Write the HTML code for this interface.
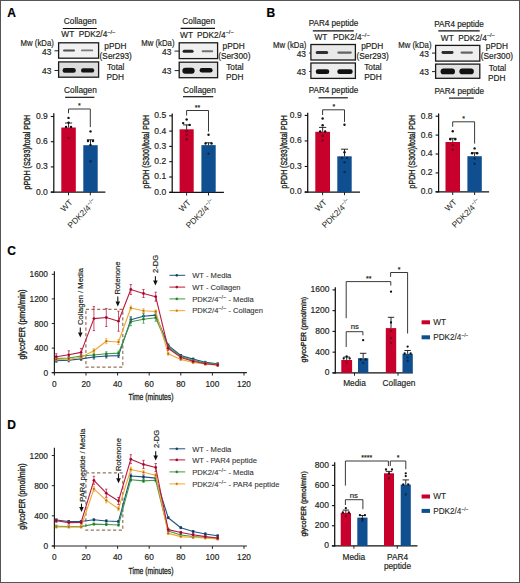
<!DOCTYPE html><html><head><meta charset="utf-8"><style>html,body{margin:0;padding:0;background:#fff;overflow:hidden;width:520px;height:583px;}svg{display:block;}text{font-family:"Liberation Sans",sans-serif;}</style></head><body>
<svg width="520" height="583" viewBox="0 0 520 583">
<defs><filter id="bl" x="-20%" y="-50%" width="140%" height="200%"><feGaussianBlur stdDeviation="0.45"/></filter></defs>
<rect x="0" y="0" width="520" height="583" fill="#fff"/>
<rect x="0.5" y="0.5" width="519" height="582" fill="none" stroke="#555555" stroke-width="1"/>
<text x="7.20" y="17.30" font-size="12" text-anchor="start" font-weight="bold" fill="#000" stroke="#000" stroke-width="0.18" >A</text>
<text x="266.60" y="17.30" font-size="12" text-anchor="start" font-weight="bold" fill="#000" stroke="#000" stroke-width="0.18" >B</text>
<text x="7.20" y="255.00" font-size="12" text-anchor="start" font-weight="bold" fill="#000" stroke="#000" stroke-width="0.18" >C</text>
<text x="7.20" y="428.80" font-size="12" text-anchor="start" font-weight="bold" fill="#000" stroke="#000" stroke-width="0.18" >D</text>
<text x="63.80" y="23.80" font-size="8.3" text-anchor="start" font-weight="normal" fill="#231f20" stroke="#231f20" stroke-width="0.18" >Collagen</text>
<line x1="62.80" y1="28.50" x2="96.80" y2="28.50" stroke="#111" stroke-width="1.15" />
<text x="61.30" y="37.30" font-size="8.3" text-anchor="start" font-weight="normal" fill="#231f20" stroke="#231f20" stroke-width="0.18" >WT</text>
<text x="78.70" y="37.30" font-size="8.3" text-anchor="start" font-weight="normal" fill="#231f20" stroke="#231f20" stroke-width="0.18" >PDK2/4<tspan font-size="5.6" dy="-3.4">−/−</tspan></text>
<text x="20.60" y="45.50" font-size="8.4" text-anchor="start" font-weight="normal" fill="#231f20" stroke="#231f20" stroke-width="0.18" textLength="33.2" lengthAdjust="spacingAndGlyphs">Mw (kDa)</text>
<text x="51.30" y="54.50" font-size="8.4" text-anchor="end" font-weight="normal" fill="#231f20" stroke="#231f20" stroke-width="0.18" >43</text>
<text x="51.30" y="73.80" font-size="8.4" text-anchor="end" font-weight="normal" fill="#231f20" stroke="#231f20" stroke-width="0.18" >43</text>
<line x1="54.50" y1="50.80" x2="58.60" y2="50.80" stroke="#222" stroke-width="1.0" />
<line x1="54.50" y1="70.50" x2="58.60" y2="70.50" stroke="#222" stroke-width="1.0" />
<rect x="58.60" y="42.80" width="40.00" height="15.40" fill="#f1f1f1" stroke="#1a1a1a" stroke-width="1.3"/>
<rect x="63.00" y="49.40" width="12.00" height="2.00" rx="1.00" fill="#1a1a1a" opacity="0.75" filter="url(#bl)"/>
<rect x="81.00" y="49.50" width="12.20" height="1.80" rx="0.90" fill="#1a1a1a" opacity="0.55" filter="url(#bl)"/>
<rect x="58.60" y="61.90" width="40.00" height="15.30" fill="#dcdcdc" stroke="#1a1a1a" stroke-width="1.3"/>
<rect x="62.60" y="68.10" width="13.20" height="4.60" rx="2.30" fill="#0a0a0a" opacity="0.97" filter="url(#bl)"/>
<rect x="81.00" y="68.20" width="13.20" height="4.40" rx="2.20" fill="#0a0a0a" opacity="0.97" filter="url(#bl)"/>
<text x="104.30" y="49.30" font-size="8.3" text-anchor="start" font-weight="normal" fill="#231f20" stroke="#231f20" stroke-width="0.18" >pPDH</text>
<text x="99.60" y="58.80" font-size="8.3" text-anchor="start" font-weight="normal" fill="#231f20" stroke="#231f20" stroke-width="0.18" >(Ser293)</text>
<text x="107.00" y="70.40" font-size="8.3" text-anchor="start" font-weight="normal" fill="#231f20" stroke="#231f20" stroke-width="0.18" textLength="17.4" lengthAdjust="spacingAndGlyphs">Total</text>
<text x="106.50" y="80.30" font-size="8.3" text-anchor="start" font-weight="normal" fill="#231f20" stroke="#231f20" stroke-width="0.18" >PDH</text>
<text x="64.10" y="93.30" font-size="8.3" text-anchor="start" font-weight="normal" fill="#231f20" stroke="#231f20" stroke-width="0.18" >Collagen</text>
<line x1="65.10" y1="97.30" x2="94.40" y2="97.30" stroke="#111" stroke-width="1.15" />
<text x="182.30" y="24.00" font-size="8.3" text-anchor="start" font-weight="normal" fill="#231f20" stroke="#231f20" stroke-width="0.18" >Collagen</text>
<line x1="180.60" y1="28.30" x2="215.00" y2="28.30" stroke="#111" stroke-width="1.15" />
<text x="180.10" y="37.60" font-size="8.3" text-anchor="start" font-weight="normal" fill="#231f20" stroke="#231f20" stroke-width="0.18" >WT</text>
<text x="197.00" y="37.60" font-size="8.3" text-anchor="start" font-weight="normal" fill="#231f20" stroke="#231f20" stroke-width="0.18" >PDK2/4<tspan font-size="5.6" dy="-3.4">−/−</tspan></text>
<text x="141.30" y="45.50" font-size="8.4" text-anchor="start" font-weight="normal" fill="#231f20" stroke="#231f20" stroke-width="0.18" textLength="33.2" lengthAdjust="spacingAndGlyphs">Mw (kDa)</text>
<text x="171.40" y="54.80" font-size="8.4" text-anchor="end" font-weight="normal" fill="#231f20" stroke="#231f20" stroke-width="0.18" >43</text>
<text x="171.40" y="73.90" font-size="8.4" text-anchor="end" font-weight="normal" fill="#231f20" stroke="#231f20" stroke-width="0.18" >43</text>
<line x1="174.60" y1="51.10" x2="179.20" y2="51.10" stroke="#222" stroke-width="1.0" />
<line x1="174.60" y1="70.60" x2="179.20" y2="70.60" stroke="#222" stroke-width="1.0" />
<rect x="179.20" y="42.80" width="38.40" height="15.80" fill="#f0f0f0" stroke="#1a1a1a" stroke-width="1.3"/>
<rect x="182.60" y="49.80" width="11.00" height="3.00" rx="1.50" fill="#1a1a1a" opacity="0.95" filter="url(#bl)"/>
<rect x="201.60" y="50.20" width="11.60" height="2.00" rx="1.00" fill="#1a1a1a" opacity="0.6" filter="url(#bl)"/>
<rect x="179.20" y="62.20" width="38.40" height="15.50" fill="#e4e4e4" stroke="#1a1a1a" stroke-width="1.3"/>
<rect x="182.40" y="67.70" width="12.20" height="6.00" rx="3.00" fill="#0a0a0a" opacity="0.98" filter="url(#bl)"/>
<rect x="199.60" y="68.00" width="13.00" height="4.60" rx="2.30" fill="#0a0a0a" opacity="0.98" filter="url(#bl)"/>
<text x="222.60" y="49.00" font-size="8.3" text-anchor="start" font-weight="normal" fill="#231f20" stroke="#231f20" stroke-width="0.18" >pPDH</text>
<text x="218.20" y="59.30" font-size="8.3" text-anchor="start" font-weight="normal" fill="#231f20" stroke="#231f20" stroke-width="0.18" >(Ser300)</text>
<text x="226.20" y="70.20" font-size="8.3" text-anchor="start" font-weight="normal" fill="#231f20" stroke="#231f20" stroke-width="0.18" textLength="17.4" lengthAdjust="spacingAndGlyphs">Total</text>
<text x="225.90" y="79.90" font-size="8.3" text-anchor="start" font-weight="normal" fill="#231f20" stroke="#231f20" stroke-width="0.18" >PDH</text>
<text x="183.10" y="92.60" font-size="8.3" text-anchor="start" font-weight="normal" fill="#231f20" stroke="#231f20" stroke-width="0.18" >Collagen</text>
<line x1="183.00" y1="96.70" x2="213.30" y2="96.70" stroke="#111" stroke-width="1.15" />
<text x="308.70" y="25.80" font-size="8.3" text-anchor="start" font-weight="normal" fill="#231f20" stroke="#231f20" stroke-width="0.18" textLength="49.6" lengthAdjust="spacingAndGlyphs">PAR4 peptide</text>
<line x1="312.80" y1="30.90" x2="353.80" y2="30.90" stroke="#111" stroke-width="1.15" />
<text x="314.50" y="39.90" font-size="8.3" text-anchor="start" font-weight="normal" fill="#231f20" stroke="#231f20" stroke-width="0.18" >WT</text>
<text x="333.00" y="39.90" font-size="8.3" text-anchor="start" font-weight="normal" fill="#231f20" stroke="#231f20" stroke-width="0.18" >PDK2/4<tspan font-size="5.6" dy="-3.4">−/−</tspan></text>
<text x="273.10" y="48.00" font-size="8.4" text-anchor="start" font-weight="normal" fill="#231f20" stroke="#231f20" stroke-width="0.18" textLength="33.2" lengthAdjust="spacingAndGlyphs">Mw (kDa)</text>
<text x="306.00" y="56.70" font-size="8.4" text-anchor="end" font-weight="normal" fill="#231f20" stroke="#231f20" stroke-width="0.18" >43</text>
<text x="306.00" y="74.80" font-size="8.4" text-anchor="end" font-weight="normal" fill="#231f20" stroke="#231f20" stroke-width="0.18" >43</text>
<line x1="309.20" y1="53.00" x2="310.90" y2="53.00" stroke="#222" stroke-width="1.0" />
<line x1="309.20" y1="71.50" x2="310.90" y2="71.50" stroke="#222" stroke-width="1.0" />
<rect x="310.90" y="44.50" width="44.50" height="15.50" fill="#e9e9e9" stroke="#1a1a1a" stroke-width="1.3"/>
<rect x="315.70" y="51.00" width="12.50" height="3.00" rx="1.50" fill="#1a1a1a" opacity="0.9" filter="url(#bl)"/>
<rect x="337.30" y="51.45" width="14.50" height="2.30" rx="1.15" fill="#1a1a1a" opacity="0.65" filter="url(#bl)"/>
<rect x="310.90" y="63.00" width="44.50" height="15.40" fill="#ececec" stroke="#1a1a1a" stroke-width="1.3"/>
<rect x="315.70" y="69.30" width="13.60" height="4.80" rx="2.40" fill="#0a0a0a" opacity="0.98" filter="url(#bl)"/>
<rect x="337.30" y="69.30" width="15.40" height="4.80" rx="2.40" fill="#0a0a0a" opacity="0.98" filter="url(#bl)"/>
<text x="361.20" y="48.80" font-size="8.3" text-anchor="start" font-weight="normal" fill="#231f20" stroke="#231f20" stroke-width="0.18" >pPDH</text>
<text x="356.50" y="59.10" font-size="8.3" text-anchor="start" font-weight="normal" fill="#231f20" stroke="#231f20" stroke-width="0.18" >(Ser293)</text>
<text x="364.20" y="69.60" font-size="8.3" text-anchor="start" font-weight="normal" fill="#231f20" stroke="#231f20" stroke-width="0.18" textLength="17.4" lengthAdjust="spacingAndGlyphs">Total</text>
<text x="364.20" y="80.10" font-size="8.3" text-anchor="start" font-weight="normal" fill="#231f20" stroke="#231f20" stroke-width="0.18" >PDH</text>
<text x="308.70" y="93.40" font-size="8.3" text-anchor="start" font-weight="normal" fill="#231f20" stroke="#231f20" stroke-width="0.18" textLength="49.6" lengthAdjust="spacingAndGlyphs">PAR4 peptide</text>
<line x1="318.50" y1="97.80" x2="347.80" y2="97.80" stroke="#111" stroke-width="1.15" />
<text x="434.30" y="27.00" font-size="8.3" text-anchor="start" font-weight="normal" fill="#231f20" stroke="#231f20" stroke-width="0.18" textLength="49.6" lengthAdjust="spacingAndGlyphs">PAR4 peptide</text>
<line x1="438.30" y1="30.90" x2="479.70" y2="30.90" stroke="#111" stroke-width="1.15" />
<text x="440.80" y="40.50" font-size="8.3" text-anchor="start" font-weight="normal" fill="#231f20" stroke="#231f20" stroke-width="0.18" >WT</text>
<text x="458.20" y="40.50" font-size="8.3" text-anchor="start" font-weight="normal" fill="#231f20" stroke="#231f20" stroke-width="0.18" >PDK2/4<tspan font-size="5.6" dy="-3.4">−/−</tspan></text>
<text x="398.30" y="47.60" font-size="8.4" text-anchor="start" font-weight="normal" fill="#231f20" stroke="#231f20" stroke-width="0.18" textLength="33.2" lengthAdjust="spacingAndGlyphs">Mw (kDa)</text>
<text x="428.80" y="56.80" font-size="8.4" text-anchor="end" font-weight="normal" fill="#231f20" stroke="#231f20" stroke-width="0.18" >43</text>
<text x="428.80" y="74.90" font-size="8.4" text-anchor="end" font-weight="normal" fill="#231f20" stroke="#231f20" stroke-width="0.18" >43</text>
<line x1="432.00" y1="53.10" x2="435.60" y2="53.10" stroke="#222" stroke-width="1.0" />
<line x1="432.00" y1="71.60" x2="435.60" y2="71.60" stroke="#222" stroke-width="1.0" />
<rect x="435.60" y="45.40" width="44.20" height="15.70" fill="#efefef" stroke="#1a1a1a" stroke-width="1.3"/>
<rect x="441.50" y="51.10" width="12.00" height="2.80" rx="1.40" fill="#1a1a1a" opacity="0.9" filter="url(#bl)"/>
<rect x="460.50" y="51.45" width="12.50" height="2.30" rx="1.15" fill="#1a1a1a" opacity="0.65" filter="url(#bl)"/>
<rect x="435.60" y="64.10" width="44.20" height="14.20" fill="#e2e2e2" stroke="#1a1a1a" stroke-width="1.3"/>
<rect x="440.60" y="68.50" width="14.40" height="5.80" rx="2.90" fill="#0a0a0a" opacity="0.98" filter="url(#bl)"/>
<rect x="459.40" y="68.60" width="14.40" height="5.60" rx="2.80" fill="#0a0a0a" opacity="0.98" filter="url(#bl)"/>
<text x="485.80" y="49.00" font-size="8.3" text-anchor="start" font-weight="normal" fill="#231f20" stroke="#231f20" stroke-width="0.18" >pPDH</text>
<text x="480.80" y="59.00" font-size="8.3" text-anchor="start" font-weight="normal" fill="#231f20" stroke="#231f20" stroke-width="0.18" >(Ser300)</text>
<text x="488.70" y="71.00" font-size="8.3" text-anchor="start" font-weight="normal" fill="#231f20" stroke="#231f20" stroke-width="0.18" textLength="17.4" lengthAdjust="spacingAndGlyphs">Total</text>
<text x="488.00" y="81.20" font-size="8.3" text-anchor="start" font-weight="normal" fill="#231f20" stroke="#231f20" stroke-width="0.18" >PDH</text>
<text x="434.50" y="93.50" font-size="8.3" text-anchor="start" font-weight="normal" fill="#231f20" stroke="#231f20" stroke-width="0.18" textLength="49.6" lengthAdjust="spacingAndGlyphs">PAR4 peptide</text>
<line x1="449.00" y1="98.10" x2="473.80" y2="98.10" stroke="#111" stroke-width="1.15" />
<line x1="53.80" y1="113.30" x2="53.80" y2="192.65" stroke="#111" stroke-width="1.25" />
<line x1="50.80" y1="192.10" x2="105.40" y2="192.10" stroke="#111" stroke-width="1.25" />
<line x1="50.80" y1="192.10" x2="53.80" y2="192.10" stroke="#111" stroke-width="1.1" />
<text x="47.80" y="194.50" font-size="8.5" text-anchor="end" font-weight="normal" fill="#231f20" stroke="#231f20" stroke-width="0.18" >0.0</text>
<line x1="50.80" y1="166.90" x2="53.80" y2="166.90" stroke="#111" stroke-width="1.1" />
<text x="47.80" y="169.30" font-size="8.5" text-anchor="end" font-weight="normal" fill="#231f20" stroke="#231f20" stroke-width="0.18" >0.3</text>
<line x1="50.80" y1="141.70" x2="53.80" y2="141.70" stroke="#111" stroke-width="1.1" />
<text x="47.80" y="144.10" font-size="8.5" text-anchor="end" font-weight="normal" fill="#231f20" stroke="#231f20" stroke-width="0.18" >0.6</text>
<line x1="50.80" y1="116.50" x2="53.80" y2="116.50" stroke="#111" stroke-width="1.1" />
<text x="47.80" y="118.90" font-size="8.5" text-anchor="end" font-weight="normal" fill="#231f20" stroke="#231f20" stroke-width="0.18" >0.9</text>
<rect x="61.30" y="127.50" width="14.50" height="64.60" fill="#c8002c" />
<line x1="68.55" y1="127.50" x2="68.55" y2="123.00" stroke="#111" stroke-width="0.9" />
<line x1="64.95" y1="123.00" x2="72.15" y2="123.00" stroke="#111" stroke-width="0.9" />
<circle cx="68.55" cy="117.90" r="1.2" fill="#111"/>
<circle cx="68.55" cy="122.60" r="1.2" fill="#111"/>
<circle cx="66.05" cy="127.00" r="1.2" fill="#111"/>
<circle cx="71.05" cy="127.00" r="1.2" fill="#111"/>
<circle cx="68.55" cy="138.00" r="1.2" fill="#6a0a1e"/>
<rect x="83.30" y="145.20" width="14.40" height="46.90" fill="#0f4f8f" />
<line x1="90.50" y1="145.20" x2="90.50" y2="139.80" stroke="#111" stroke-width="0.9" />
<line x1="86.90" y1="139.80" x2="94.10" y2="139.80" stroke="#111" stroke-width="0.9" />
<circle cx="90.50" cy="131.40" r="1.2" fill="#111"/>
<circle cx="88.00" cy="141.00" r="1.2" fill="#111"/>
<circle cx="93.00" cy="141.00" r="1.2" fill="#111"/>
<circle cx="90.50" cy="145.00" r="1.2" fill="#111"/>
<circle cx="90.50" cy="161.20" r="1.2" fill="#0a2a52"/>
<line x1="68.50" y1="192.10" x2="68.50" y2="195.30" stroke="#222" stroke-width="1.0" />
<line x1="90.30" y1="192.10" x2="90.30" y2="195.30" stroke="#222" stroke-width="1.0" />
<polyline points="68.50,113.30 68.50,109.00 90.30,109.00 90.30,127.10" fill="none" stroke="#222" stroke-width="0.9"/>
<text x="79.30" y="108.20" font-size="7" text-anchor="middle" font-weight="normal" fill="#231f20" stroke="#231f20" stroke-width="0.18" >*</text>
<text transform="translate(30.00,189.40) rotate(-90)" x="0" y="0" font-size="8.4" font-weight="normal" fill="#231f20" text-anchor="start" textLength="74.6" lengthAdjust="spacingAndGlyphs" stroke="#231f20" stroke-width="0.35">pPDH (S293)/total PDH</text>
<text transform="translate(73.20,203.00) rotate(-45)" x="0" y="0" font-size="8.3" text-anchor="end" fill="#231f20">WT</text>
<text transform="translate(97.00,202.70) rotate(-45)" x="0" y="0" font-size="8.3" text-anchor="end" fill="#231f20">PDK2/4<tspan font-size="5.6" dy="-3.4">−/−</tspan></text>
<line x1="172.20" y1="113.50" x2="172.20" y2="192.85" stroke="#111" stroke-width="1.25" />
<line x1="169.20" y1="192.30" x2="223.90" y2="192.30" stroke="#111" stroke-width="1.25" />
<line x1="169.20" y1="192.30" x2="172.20" y2="192.30" stroke="#111" stroke-width="1.1" />
<text x="166.20" y="194.70" font-size="8.5" text-anchor="end" font-weight="normal" fill="#231f20" stroke="#231f20" stroke-width="0.18" >0.0</text>
<line x1="169.20" y1="177.00" x2="172.20" y2="177.00" stroke="#111" stroke-width="1.1" />
<text x="166.20" y="179.40" font-size="8.5" text-anchor="end" font-weight="normal" fill="#231f20" stroke="#231f20" stroke-width="0.18" >0.1</text>
<line x1="169.20" y1="161.70" x2="172.20" y2="161.70" stroke="#111" stroke-width="1.1" />
<text x="166.20" y="164.10" font-size="8.5" text-anchor="end" font-weight="normal" fill="#231f20" stroke="#231f20" stroke-width="0.18" >0.2</text>
<line x1="169.20" y1="146.40" x2="172.20" y2="146.40" stroke="#111" stroke-width="1.1" />
<text x="166.20" y="148.80" font-size="8.5" text-anchor="end" font-weight="normal" fill="#231f20" stroke="#231f20" stroke-width="0.18" >0.3</text>
<line x1="169.20" y1="131.10" x2="172.20" y2="131.10" stroke="#111" stroke-width="1.1" />
<text x="166.20" y="133.50" font-size="8.5" text-anchor="end" font-weight="normal" fill="#231f20" stroke="#231f20" stroke-width="0.18" >0.4</text>
<line x1="169.20" y1="115.80" x2="172.20" y2="115.80" stroke="#111" stroke-width="1.1" />
<text x="166.20" y="118.20" font-size="8.5" text-anchor="end" font-weight="normal" fill="#231f20" stroke="#231f20" stroke-width="0.18" >0.5</text>
<rect x="179.60" y="129.30" width="14.10" height="63.00" fill="#c8002c" />
<line x1="186.65" y1="129.30" x2="186.65" y2="124.90" stroke="#111" stroke-width="0.9" />
<line x1="183.05" y1="124.90" x2="190.25" y2="124.90" stroke="#111" stroke-width="0.9" />
<circle cx="186.65" cy="119.50" r="1.2" fill="#111"/>
<circle cx="183.15" cy="123.10" r="1.2" fill="#111"/>
<circle cx="189.65" cy="124.90" r="1.2" fill="#111"/>
<circle cx="186.65" cy="131.00" r="1.2" fill="#6a0a1e"/>
<circle cx="186.65" cy="134.70" r="1.2" fill="#6a0a1e"/>
<circle cx="186.65" cy="139.30" r="1.2" fill="#6a0a1e"/>
<rect x="201.40" y="145.10" width="14.30" height="47.20" fill="#0f4f8f" />
<line x1="208.55" y1="145.10" x2="208.55" y2="142.80" stroke="#111" stroke-width="0.9" />
<line x1="204.95" y1="142.80" x2="212.15" y2="142.80" stroke="#111" stroke-width="0.9" />
<circle cx="208.55" cy="134.70" r="1.2" fill="#111"/>
<circle cx="205.55" cy="143.50" r="1.2" fill="#111"/>
<circle cx="211.55" cy="143.50" r="1.2" fill="#111"/>
<circle cx="208.55" cy="153.80" r="1.2" fill="#0a2a52"/>
<line x1="186.60" y1="192.30" x2="186.60" y2="195.50" stroke="#222" stroke-width="1.0" />
<line x1="208.50" y1="192.30" x2="208.50" y2="195.50" stroke="#222" stroke-width="1.0" />
<polyline points="186.60,115.50 186.60,110.50 208.50,110.50 208.50,131.60" fill="none" stroke="#222" stroke-width="0.9"/>
<text x="197.40" y="109.90" font-size="7" text-anchor="middle" font-weight="normal" fill="#231f20" stroke="#231f20" stroke-width="0.18" >**</text>
<text transform="translate(149.00,188.40) rotate(-90)" x="0" y="0" font-size="8.4" font-weight="normal" fill="#231f20" text-anchor="start" textLength="73.4" lengthAdjust="spacingAndGlyphs" stroke="#231f20" stroke-width="0.35">pPDH (S300)/total PDH</text>
<text transform="translate(191.30,203.20) rotate(-45)" x="0" y="0" font-size="8.3" text-anchor="end" fill="#231f20">WT</text>
<text transform="translate(215.20,202.90) rotate(-45)" x="0" y="0" font-size="8.3" text-anchor="end" fill="#231f20">PDK2/4<tspan font-size="5.6" dy="-3.4">−/−</tspan></text>
<line x1="307.70" y1="112.70" x2="307.70" y2="192.55" stroke="#111" stroke-width="1.25" />
<line x1="304.70" y1="192.00" x2="360.00" y2="192.00" stroke="#111" stroke-width="1.25" />
<line x1="304.70" y1="192.00" x2="307.70" y2="192.00" stroke="#111" stroke-width="1.1" />
<text x="301.70" y="194.40" font-size="8.5" text-anchor="end" font-weight="normal" fill="#231f20" stroke="#231f20" stroke-width="0.18" >0.0</text>
<line x1="304.70" y1="166.47" x2="307.70" y2="166.47" stroke="#111" stroke-width="1.1" />
<text x="301.70" y="168.87" font-size="8.5" text-anchor="end" font-weight="normal" fill="#231f20" stroke="#231f20" stroke-width="0.18" >0.3</text>
<line x1="304.70" y1="140.94" x2="307.70" y2="140.94" stroke="#111" stroke-width="1.1" />
<text x="301.70" y="143.34" font-size="8.5" text-anchor="end" font-weight="normal" fill="#231f20" stroke="#231f20" stroke-width="0.18" >0.6</text>
<line x1="304.70" y1="115.41" x2="307.70" y2="115.41" stroke="#111" stroke-width="1.1" />
<text x="301.70" y="117.81" font-size="8.5" text-anchor="end" font-weight="normal" fill="#231f20" stroke="#231f20" stroke-width="0.18" >0.9</text>
<rect x="315.30" y="131.80" width="14.70" height="60.20" fill="#c8002c" />
<line x1="322.65" y1="131.80" x2="322.65" y2="127.40" stroke="#111" stroke-width="0.9" />
<line x1="319.05" y1="127.40" x2="326.25" y2="127.40" stroke="#111" stroke-width="0.9" />
<circle cx="322.65" cy="118.50" r="1.2" fill="#111"/>
<circle cx="322.65" cy="125.30" r="1.2" fill="#111"/>
<circle cx="320.15" cy="131.50" r="1.2" fill="#111"/>
<circle cx="325.15" cy="131.50" r="1.2" fill="#111"/>
<circle cx="322.65" cy="135.80" r="1.2" fill="#6a0a1e"/>
<circle cx="322.65" cy="140.40" r="1.2" fill="#6a0a1e"/>
<rect x="337.30" y="156.30" width="14.40" height="35.70" fill="#0f4f8f" />
<line x1="344.50" y1="156.30" x2="344.50" y2="149.20" stroke="#111" stroke-width="0.9" />
<line x1="340.90" y1="149.20" x2="348.10" y2="149.20" stroke="#111" stroke-width="0.9" />
<circle cx="344.50" cy="124.70" r="1.2" fill="#111"/>
<circle cx="344.50" cy="152.30" r="1.2" fill="#111"/>
<circle cx="342.00" cy="158.00" r="1.2" fill="#0a2a52"/>
<circle cx="347.00" cy="158.00" r="1.2" fill="#0a2a52"/>
<circle cx="344.50" cy="162.30" r="1.2" fill="#0a2a52"/>
<circle cx="344.50" cy="171.90" r="1.2" fill="#0a2a52"/>
<line x1="322.60" y1="192.00" x2="322.60" y2="195.20" stroke="#222" stroke-width="1.0" />
<line x1="344.50" y1="192.00" x2="344.50" y2="195.20" stroke="#222" stroke-width="1.0" />
<polyline points="322.60,115.00 322.60,109.80 344.50,109.80 344.50,121.90" fill="none" stroke="#222" stroke-width="0.9"/>
<text x="333.80" y="109.40" font-size="7" text-anchor="middle" font-weight="normal" fill="#231f20" stroke="#231f20" stroke-width="0.18" >*</text>
<text transform="translate(286.60,188.40) rotate(-90)" x="0" y="0" font-size="8.4" font-weight="normal" fill="#231f20" text-anchor="start" textLength="73.2" lengthAdjust="spacingAndGlyphs" stroke="#231f20" stroke-width="0.35">pPDH (S293)/total PDH</text>
<text transform="translate(327.30,202.90) rotate(-45)" x="0" y="0" font-size="8.3" text-anchor="end" fill="#231f20">WT</text>
<text transform="translate(351.20,202.60) rotate(-45)" x="0" y="0" font-size="8.3" text-anchor="end" fill="#231f20">PDK2/4<tspan font-size="5.6" dy="-3.4">−/−</tspan></text>
<line x1="438.60" y1="113.50" x2="438.60" y2="192.35" stroke="#111" stroke-width="1.25" />
<line x1="435.60" y1="191.80" x2="489.10" y2="191.80" stroke="#111" stroke-width="1.25" />
<line x1="435.60" y1="191.80" x2="438.60" y2="191.80" stroke="#111" stroke-width="1.1" />
<text x="432.60" y="194.20" font-size="8.5" text-anchor="end" font-weight="normal" fill="#231f20" stroke="#231f20" stroke-width="0.18" >0.0</text>
<line x1="435.60" y1="172.90" x2="438.60" y2="172.90" stroke="#111" stroke-width="1.1" />
<text x="432.60" y="175.30" font-size="8.5" text-anchor="end" font-weight="normal" fill="#231f20" stroke="#231f20" stroke-width="0.18" >0.2</text>
<line x1="435.60" y1="154.00" x2="438.60" y2="154.00" stroke="#111" stroke-width="1.1" />
<text x="432.60" y="156.40" font-size="8.5" text-anchor="end" font-weight="normal" fill="#231f20" stroke="#231f20" stroke-width="0.18" >0.4</text>
<line x1="435.60" y1="135.10" x2="438.60" y2="135.10" stroke="#111" stroke-width="1.1" />
<text x="432.60" y="137.50" font-size="8.5" text-anchor="end" font-weight="normal" fill="#231f20" stroke="#231f20" stroke-width="0.18" >0.6</text>
<line x1="435.60" y1="116.20" x2="438.60" y2="116.20" stroke="#111" stroke-width="1.1" />
<text x="432.60" y="118.60" font-size="8.5" text-anchor="end" font-weight="normal" fill="#231f20" stroke="#231f20" stroke-width="0.18" >0.8</text>
<rect x="445.50" y="142.00" width="14.50" height="49.80" fill="#c8002c" />
<line x1="452.75" y1="142.00" x2="452.75" y2="138.30" stroke="#111" stroke-width="0.9" />
<line x1="449.15" y1="138.30" x2="456.35" y2="138.30" stroke="#111" stroke-width="0.9" />
<circle cx="452.75" cy="131.30" r="1.2" fill="#111"/>
<circle cx="450.25" cy="139.30" r="1.2" fill="#111"/>
<circle cx="455.25" cy="139.30" r="1.2" fill="#111"/>
<circle cx="452.75" cy="145.00" r="1.2" fill="#6a0a1e"/>
<circle cx="452.75" cy="149.70" r="1.2" fill="#6a0a1e"/>
<rect x="467.40" y="156.20" width="14.40" height="35.60" fill="#0f4f8f" />
<line x1="474.60" y1="156.20" x2="474.60" y2="152.80" stroke="#111" stroke-width="0.9" />
<line x1="471.00" y1="152.80" x2="478.20" y2="152.80" stroke="#111" stroke-width="0.9" />
<circle cx="474.60" cy="148.40" r="1.2" fill="#111"/>
<circle cx="472.10" cy="153.30" r="1.2" fill="#111"/>
<circle cx="477.10" cy="153.30" r="1.2" fill="#111"/>
<circle cx="474.60" cy="158.50" r="1.2" fill="#0a2a52"/>
<circle cx="474.60" cy="163.80" r="1.2" fill="#0a2a52"/>
<line x1="452.70" y1="191.80" x2="452.70" y2="195.00" stroke="#222" stroke-width="1.0" />
<line x1="474.60" y1="191.80" x2="474.60" y2="195.00" stroke="#222" stroke-width="1.0" />
<polyline points="452.70,126.80 452.70,121.80 474.60,121.80 474.60,143.60" fill="none" stroke="#222" stroke-width="0.9"/>
<text x="463.60" y="121.20" font-size="7" text-anchor="middle" font-weight="normal" fill="#231f20" stroke="#231f20" stroke-width="0.18" >*</text>
<text transform="translate(415.20,188.40) rotate(-90)" x="0" y="0" font-size="8.4" font-weight="normal" fill="#231f20" text-anchor="start" textLength="73.4" lengthAdjust="spacingAndGlyphs" stroke="#231f20" stroke-width="0.35">pPDH (S300)/total PDH</text>
<text transform="translate(457.40,202.70) rotate(-45)" x="0" y="0" font-size="8.3" text-anchor="end" fill="#231f20">WT</text>
<text transform="translate(481.30,202.40) rotate(-45)" x="0" y="0" font-size="8.3" text-anchor="end" fill="#231f20">PDK2/4<tspan font-size="5.6" dy="-3.4">−/−</tspan></text>
<rect x="85.9" y="309.30" width="36.90" height="57.80" fill="none" stroke="#977258" stroke-width="1.2" stroke-dasharray="3.2,2.4"/>
<polyline points="56.30,360.80 68.80,360.30 81.10,358.90 93.90,357.00 106.30,356.00 118.50,355.60 130.80,319.70 143.50,316.20 155.70,315.10 168.20,345.40 180.80,355.50 193.10,359.10 205.30,362.30 217.70,363.80" fill="none" stroke="#1d5282" stroke-width="1.1" stroke-linejoin="round"/>
<line x1="56.30" y1="359.30" x2="56.30" y2="362.30" stroke="#1d5282" stroke-width="0.75" />
<line x1="55.10" y1="359.30" x2="57.50" y2="359.30" stroke="#1d5282" stroke-width="0.75" />
<line x1="55.10" y1="362.30" x2="57.50" y2="362.30" stroke="#1d5282" stroke-width="0.75" />
<line x1="68.80" y1="358.80" x2="68.80" y2="361.80" stroke="#1d5282" stroke-width="0.75" />
<line x1="67.60" y1="358.80" x2="70.00" y2="358.80" stroke="#1d5282" stroke-width="0.75" />
<line x1="67.60" y1="361.80" x2="70.00" y2="361.80" stroke="#1d5282" stroke-width="0.75" />
<line x1="81.10" y1="357.40" x2="81.10" y2="360.40" stroke="#1d5282" stroke-width="0.75" />
<line x1="79.90" y1="357.40" x2="82.30" y2="357.40" stroke="#1d5282" stroke-width="0.75" />
<line x1="79.90" y1="360.40" x2="82.30" y2="360.40" stroke="#1d5282" stroke-width="0.75" />
<line x1="93.90" y1="355.00" x2="93.90" y2="359.00" stroke="#1d5282" stroke-width="0.75" />
<line x1="92.70" y1="355.00" x2="95.10" y2="355.00" stroke="#1d5282" stroke-width="0.75" />
<line x1="92.70" y1="359.00" x2="95.10" y2="359.00" stroke="#1d5282" stroke-width="0.75" />
<line x1="106.30" y1="354.00" x2="106.30" y2="358.00" stroke="#1d5282" stroke-width="0.75" />
<line x1="105.10" y1="354.00" x2="107.50" y2="354.00" stroke="#1d5282" stroke-width="0.75" />
<line x1="105.10" y1="358.00" x2="107.50" y2="358.00" stroke="#1d5282" stroke-width="0.75" />
<line x1="118.50" y1="353.60" x2="118.50" y2="357.60" stroke="#1d5282" stroke-width="0.75" />
<line x1="117.30" y1="353.60" x2="119.70" y2="353.60" stroke="#1d5282" stroke-width="0.75" />
<line x1="117.30" y1="357.60" x2="119.70" y2="357.60" stroke="#1d5282" stroke-width="0.75" />
<line x1="130.80" y1="316.70" x2="130.80" y2="322.70" stroke="#1d5282" stroke-width="0.75" />
<line x1="129.60" y1="316.70" x2="132.00" y2="316.70" stroke="#1d5282" stroke-width="0.75" />
<line x1="129.60" y1="322.70" x2="132.00" y2="322.70" stroke="#1d5282" stroke-width="0.75" />
<line x1="143.50" y1="313.20" x2="143.50" y2="319.20" stroke="#1d5282" stroke-width="0.75" />
<line x1="142.30" y1="313.20" x2="144.70" y2="313.20" stroke="#1d5282" stroke-width="0.75" />
<line x1="142.30" y1="319.20" x2="144.70" y2="319.20" stroke="#1d5282" stroke-width="0.75" />
<line x1="155.70" y1="312.60" x2="155.70" y2="317.60" stroke="#1d5282" stroke-width="0.75" />
<line x1="154.50" y1="312.60" x2="156.90" y2="312.60" stroke="#1d5282" stroke-width="0.75" />
<line x1="154.50" y1="317.60" x2="156.90" y2="317.60" stroke="#1d5282" stroke-width="0.75" />
<line x1="168.20" y1="343.90" x2="168.20" y2="346.90" stroke="#1d5282" stroke-width="0.75" />
<line x1="167.00" y1="343.90" x2="169.40" y2="343.90" stroke="#1d5282" stroke-width="0.75" />
<line x1="167.00" y1="346.90" x2="169.40" y2="346.90" stroke="#1d5282" stroke-width="0.75" />
<line x1="180.80" y1="354.50" x2="180.80" y2="356.50" stroke="#1d5282" stroke-width="0.75" />
<line x1="179.60" y1="354.50" x2="182.00" y2="354.50" stroke="#1d5282" stroke-width="0.75" />
<line x1="179.60" y1="356.50" x2="182.00" y2="356.50" stroke="#1d5282" stroke-width="0.75" />
<line x1="193.10" y1="358.10" x2="193.10" y2="360.10" stroke="#1d5282" stroke-width="0.75" />
<line x1="191.90" y1="358.10" x2="194.30" y2="358.10" stroke="#1d5282" stroke-width="0.75" />
<line x1="191.90" y1="360.10" x2="194.30" y2="360.10" stroke="#1d5282" stroke-width="0.75" />
<line x1="205.30" y1="361.30" x2="205.30" y2="363.30" stroke="#1d5282" stroke-width="0.75" />
<line x1="204.10" y1="361.30" x2="206.50" y2="361.30" stroke="#1d5282" stroke-width="0.75" />
<line x1="204.10" y1="363.30" x2="206.50" y2="363.30" stroke="#1d5282" stroke-width="0.75" />
<line x1="217.70" y1="362.80" x2="217.70" y2="364.80" stroke="#1d5282" stroke-width="0.75" />
<line x1="216.50" y1="362.80" x2="218.90" y2="362.80" stroke="#1d5282" stroke-width="0.75" />
<line x1="216.50" y1="364.80" x2="218.90" y2="364.80" stroke="#1d5282" stroke-width="0.75" />
<circle cx="56.30" cy="360.80" r="1.4" fill="#1d5282"/>
<circle cx="56.30" cy="360.80" r="0.9" fill="#000" opacity="0.35"/>
<circle cx="68.80" cy="360.30" r="1.4" fill="#1d5282"/>
<circle cx="68.80" cy="360.30" r="0.9" fill="#000" opacity="0.35"/>
<circle cx="81.10" cy="358.90" r="1.4" fill="#1d5282"/>
<circle cx="81.10" cy="358.90" r="0.9" fill="#000" opacity="0.35"/>
<circle cx="93.90" cy="357.00" r="1.4" fill="#1d5282"/>
<circle cx="93.90" cy="357.00" r="0.9" fill="#000" opacity="0.35"/>
<circle cx="106.30" cy="356.00" r="1.4" fill="#1d5282"/>
<circle cx="106.30" cy="356.00" r="0.9" fill="#000" opacity="0.35"/>
<circle cx="118.50" cy="355.60" r="1.4" fill="#1d5282"/>
<circle cx="118.50" cy="355.60" r="0.9" fill="#000" opacity="0.35"/>
<circle cx="130.80" cy="319.70" r="1.4" fill="#1d5282"/>
<circle cx="130.80" cy="319.70" r="0.9" fill="#000" opacity="0.35"/>
<circle cx="143.50" cy="316.20" r="1.4" fill="#1d5282"/>
<circle cx="143.50" cy="316.20" r="0.9" fill="#000" opacity="0.35"/>
<circle cx="155.70" cy="315.10" r="1.4" fill="#1d5282"/>
<circle cx="155.70" cy="315.10" r="0.9" fill="#000" opacity="0.35"/>
<circle cx="168.20" cy="345.40" r="1.4" fill="#1d5282"/>
<circle cx="168.20" cy="345.40" r="0.9" fill="#000" opacity="0.35"/>
<circle cx="180.80" cy="355.50" r="1.4" fill="#1d5282"/>
<circle cx="180.80" cy="355.50" r="0.9" fill="#000" opacity="0.35"/>
<circle cx="193.10" cy="359.10" r="1.4" fill="#1d5282"/>
<circle cx="193.10" cy="359.10" r="0.9" fill="#000" opacity="0.35"/>
<circle cx="205.30" cy="362.30" r="1.4" fill="#1d5282"/>
<circle cx="205.30" cy="362.30" r="0.9" fill="#000" opacity="0.35"/>
<circle cx="217.70" cy="363.80" r="1.4" fill="#1d5282"/>
<circle cx="217.70" cy="363.80" r="0.9" fill="#000" opacity="0.35"/>
<polyline points="56.30,358.50 68.80,358.00 81.10,356.00 93.90,355.00 106.30,353.80 118.50,353.10 130.80,321.80 143.50,319.20 155.70,317.70 168.20,347.00 180.80,356.50 193.10,360.50 205.30,363.00 217.70,364.30" fill="none" stroke="#3c9a45" stroke-width="1.1" stroke-linejoin="round"/>
<line x1="56.30" y1="357.00" x2="56.30" y2="360.00" stroke="#3c9a45" stroke-width="0.75" />
<line x1="55.10" y1="357.00" x2="57.50" y2="357.00" stroke="#3c9a45" stroke-width="0.75" />
<line x1="55.10" y1="360.00" x2="57.50" y2="360.00" stroke="#3c9a45" stroke-width="0.75" />
<line x1="68.80" y1="356.50" x2="68.80" y2="359.50" stroke="#3c9a45" stroke-width="0.75" />
<line x1="67.60" y1="356.50" x2="70.00" y2="356.50" stroke="#3c9a45" stroke-width="0.75" />
<line x1="67.60" y1="359.50" x2="70.00" y2="359.50" stroke="#3c9a45" stroke-width="0.75" />
<line x1="81.10" y1="354.50" x2="81.10" y2="357.50" stroke="#3c9a45" stroke-width="0.75" />
<line x1="79.90" y1="354.50" x2="82.30" y2="354.50" stroke="#3c9a45" stroke-width="0.75" />
<line x1="79.90" y1="357.50" x2="82.30" y2="357.50" stroke="#3c9a45" stroke-width="0.75" />
<line x1="93.90" y1="353.00" x2="93.90" y2="357.00" stroke="#3c9a45" stroke-width="0.75" />
<line x1="92.70" y1="353.00" x2="95.10" y2="353.00" stroke="#3c9a45" stroke-width="0.75" />
<line x1="92.70" y1="357.00" x2="95.10" y2="357.00" stroke="#3c9a45" stroke-width="0.75" />
<line x1="106.30" y1="351.80" x2="106.30" y2="355.80" stroke="#3c9a45" stroke-width="0.75" />
<line x1="105.10" y1="351.80" x2="107.50" y2="351.80" stroke="#3c9a45" stroke-width="0.75" />
<line x1="105.10" y1="355.80" x2="107.50" y2="355.80" stroke="#3c9a45" stroke-width="0.75" />
<line x1="118.50" y1="351.10" x2="118.50" y2="355.10" stroke="#3c9a45" stroke-width="0.75" />
<line x1="117.30" y1="351.10" x2="119.70" y2="351.10" stroke="#3c9a45" stroke-width="0.75" />
<line x1="117.30" y1="355.10" x2="119.70" y2="355.10" stroke="#3c9a45" stroke-width="0.75" />
<line x1="130.80" y1="317.80" x2="130.80" y2="325.80" stroke="#3c9a45" stroke-width="0.75" />
<line x1="129.60" y1="317.80" x2="132.00" y2="317.80" stroke="#3c9a45" stroke-width="0.75" />
<line x1="129.60" y1="325.80" x2="132.00" y2="325.80" stroke="#3c9a45" stroke-width="0.75" />
<line x1="143.50" y1="315.20" x2="143.50" y2="323.20" stroke="#3c9a45" stroke-width="0.75" />
<line x1="142.30" y1="315.20" x2="144.70" y2="315.20" stroke="#3c9a45" stroke-width="0.75" />
<line x1="142.30" y1="323.20" x2="144.70" y2="323.20" stroke="#3c9a45" stroke-width="0.75" />
<line x1="155.70" y1="314.20" x2="155.70" y2="321.20" stroke="#3c9a45" stroke-width="0.75" />
<line x1="154.50" y1="314.20" x2="156.90" y2="314.20" stroke="#3c9a45" stroke-width="0.75" />
<line x1="154.50" y1="321.20" x2="156.90" y2="321.20" stroke="#3c9a45" stroke-width="0.75" />
<line x1="168.20" y1="345.50" x2="168.20" y2="348.50" stroke="#3c9a45" stroke-width="0.75" />
<line x1="167.00" y1="345.50" x2="169.40" y2="345.50" stroke="#3c9a45" stroke-width="0.75" />
<line x1="167.00" y1="348.50" x2="169.40" y2="348.50" stroke="#3c9a45" stroke-width="0.75" />
<line x1="180.80" y1="355.50" x2="180.80" y2="357.50" stroke="#3c9a45" stroke-width="0.75" />
<line x1="179.60" y1="355.50" x2="182.00" y2="355.50" stroke="#3c9a45" stroke-width="0.75" />
<line x1="179.60" y1="357.50" x2="182.00" y2="357.50" stroke="#3c9a45" stroke-width="0.75" />
<line x1="193.10" y1="359.50" x2="193.10" y2="361.50" stroke="#3c9a45" stroke-width="0.75" />
<line x1="191.90" y1="359.50" x2="194.30" y2="359.50" stroke="#3c9a45" stroke-width="0.75" />
<line x1="191.90" y1="361.50" x2="194.30" y2="361.50" stroke="#3c9a45" stroke-width="0.75" />
<line x1="205.30" y1="362.00" x2="205.30" y2="364.00" stroke="#3c9a45" stroke-width="0.75" />
<line x1="204.10" y1="362.00" x2="206.50" y2="362.00" stroke="#3c9a45" stroke-width="0.75" />
<line x1="204.10" y1="364.00" x2="206.50" y2="364.00" stroke="#3c9a45" stroke-width="0.75" />
<line x1="217.70" y1="363.30" x2="217.70" y2="365.30" stroke="#3c9a45" stroke-width="0.75" />
<line x1="216.50" y1="363.30" x2="218.90" y2="363.30" stroke="#3c9a45" stroke-width="0.75" />
<line x1="216.50" y1="365.30" x2="218.90" y2="365.30" stroke="#3c9a45" stroke-width="0.75" />
<circle cx="56.30" cy="358.50" r="1.4" fill="#3c9a45"/>
<circle cx="56.30" cy="358.50" r="0.9" fill="#000" opacity="0.35"/>
<circle cx="68.80" cy="358.00" r="1.4" fill="#3c9a45"/>
<circle cx="68.80" cy="358.00" r="0.9" fill="#000" opacity="0.35"/>
<circle cx="81.10" cy="356.00" r="1.4" fill="#3c9a45"/>
<circle cx="81.10" cy="356.00" r="0.9" fill="#000" opacity="0.35"/>
<circle cx="93.90" cy="355.00" r="1.4" fill="#3c9a45"/>
<circle cx="93.90" cy="355.00" r="0.9" fill="#000" opacity="0.35"/>
<circle cx="106.30" cy="353.80" r="1.4" fill="#3c9a45"/>
<circle cx="106.30" cy="353.80" r="0.9" fill="#000" opacity="0.35"/>
<circle cx="118.50" cy="353.10" r="1.4" fill="#3c9a45"/>
<circle cx="118.50" cy="353.10" r="0.9" fill="#000" opacity="0.35"/>
<circle cx="130.80" cy="321.80" r="1.4" fill="#3c9a45"/>
<circle cx="130.80" cy="321.80" r="0.9" fill="#000" opacity="0.35"/>
<circle cx="143.50" cy="319.20" r="1.4" fill="#3c9a45"/>
<circle cx="143.50" cy="319.20" r="0.9" fill="#000" opacity="0.35"/>
<circle cx="155.70" cy="317.70" r="1.4" fill="#3c9a45"/>
<circle cx="155.70" cy="317.70" r="0.9" fill="#000" opacity="0.35"/>
<circle cx="168.20" cy="347.00" r="1.4" fill="#3c9a45"/>
<circle cx="168.20" cy="347.00" r="0.9" fill="#000" opacity="0.35"/>
<circle cx="180.80" cy="356.50" r="1.4" fill="#3c9a45"/>
<circle cx="180.80" cy="356.50" r="0.9" fill="#000" opacity="0.35"/>
<circle cx="193.10" cy="360.50" r="1.4" fill="#3c9a45"/>
<circle cx="193.10" cy="360.50" r="0.9" fill="#000" opacity="0.35"/>
<circle cx="205.30" cy="363.00" r="1.4" fill="#3c9a45"/>
<circle cx="205.30" cy="363.00" r="0.9" fill="#000" opacity="0.35"/>
<circle cx="217.70" cy="364.30" r="1.4" fill="#3c9a45"/>
<circle cx="217.70" cy="364.30" r="0.9" fill="#000" opacity="0.35"/>
<polyline points="56.30,359.50 68.80,359.20 81.10,357.20 93.90,350.70 106.30,341.20 118.50,342.00 130.80,308.00 143.50,310.80 155.70,311.50 168.20,353.70 180.80,359.40 193.10,362.50 205.30,364.00 217.70,365.20" fill="none" stroke="#f2a630" stroke-width="1.1" stroke-linejoin="round"/>
<line x1="56.30" y1="358.00" x2="56.30" y2="361.00" stroke="#f2a630" stroke-width="0.75" />
<line x1="55.10" y1="358.00" x2="57.50" y2="358.00" stroke="#f2a630" stroke-width="0.75" />
<line x1="55.10" y1="361.00" x2="57.50" y2="361.00" stroke="#f2a630" stroke-width="0.75" />
<line x1="68.80" y1="357.70" x2="68.80" y2="360.70" stroke="#f2a630" stroke-width="0.75" />
<line x1="67.60" y1="357.70" x2="70.00" y2="357.70" stroke="#f2a630" stroke-width="0.75" />
<line x1="67.60" y1="360.70" x2="70.00" y2="360.70" stroke="#f2a630" stroke-width="0.75" />
<line x1="81.10" y1="355.70" x2="81.10" y2="358.70" stroke="#f2a630" stroke-width="0.75" />
<line x1="79.90" y1="355.70" x2="82.30" y2="355.70" stroke="#f2a630" stroke-width="0.75" />
<line x1="79.90" y1="358.70" x2="82.30" y2="358.70" stroke="#f2a630" stroke-width="0.75" />
<line x1="93.90" y1="348.70" x2="93.90" y2="352.70" stroke="#f2a630" stroke-width="0.75" />
<line x1="92.70" y1="348.70" x2="95.10" y2="348.70" stroke="#f2a630" stroke-width="0.75" />
<line x1="92.70" y1="352.70" x2="95.10" y2="352.70" stroke="#f2a630" stroke-width="0.75" />
<line x1="106.30" y1="338.70" x2="106.30" y2="343.70" stroke="#f2a630" stroke-width="0.75" />
<line x1="105.10" y1="338.70" x2="107.50" y2="338.70" stroke="#f2a630" stroke-width="0.75" />
<line x1="105.10" y1="343.70" x2="107.50" y2="343.70" stroke="#f2a630" stroke-width="0.75" />
<line x1="118.50" y1="339.50" x2="118.50" y2="344.50" stroke="#f2a630" stroke-width="0.75" />
<line x1="117.30" y1="339.50" x2="119.70" y2="339.50" stroke="#f2a630" stroke-width="0.75" />
<line x1="117.30" y1="344.50" x2="119.70" y2="344.50" stroke="#f2a630" stroke-width="0.75" />
<line x1="130.80" y1="306.00" x2="130.80" y2="310.00" stroke="#f2a630" stroke-width="0.75" />
<line x1="129.60" y1="306.00" x2="132.00" y2="306.00" stroke="#f2a630" stroke-width="0.75" />
<line x1="129.60" y1="310.00" x2="132.00" y2="310.00" stroke="#f2a630" stroke-width="0.75" />
<line x1="143.50" y1="308.80" x2="143.50" y2="312.80" stroke="#f2a630" stroke-width="0.75" />
<line x1="142.30" y1="308.80" x2="144.70" y2="308.80" stroke="#f2a630" stroke-width="0.75" />
<line x1="142.30" y1="312.80" x2="144.70" y2="312.80" stroke="#f2a630" stroke-width="0.75" />
<line x1="155.70" y1="310.00" x2="155.70" y2="313.00" stroke="#f2a630" stroke-width="0.75" />
<line x1="154.50" y1="310.00" x2="156.90" y2="310.00" stroke="#f2a630" stroke-width="0.75" />
<line x1="154.50" y1="313.00" x2="156.90" y2="313.00" stroke="#f2a630" stroke-width="0.75" />
<line x1="168.20" y1="352.20" x2="168.20" y2="355.20" stroke="#f2a630" stroke-width="0.75" />
<line x1="167.00" y1="352.20" x2="169.40" y2="352.20" stroke="#f2a630" stroke-width="0.75" />
<line x1="167.00" y1="355.20" x2="169.40" y2="355.20" stroke="#f2a630" stroke-width="0.75" />
<line x1="180.80" y1="358.40" x2="180.80" y2="360.40" stroke="#f2a630" stroke-width="0.75" />
<line x1="179.60" y1="358.40" x2="182.00" y2="358.40" stroke="#f2a630" stroke-width="0.75" />
<line x1="179.60" y1="360.40" x2="182.00" y2="360.40" stroke="#f2a630" stroke-width="0.75" />
<line x1="193.10" y1="361.50" x2="193.10" y2="363.50" stroke="#f2a630" stroke-width="0.75" />
<line x1="191.90" y1="361.50" x2="194.30" y2="361.50" stroke="#f2a630" stroke-width="0.75" />
<line x1="191.90" y1="363.50" x2="194.30" y2="363.50" stroke="#f2a630" stroke-width="0.75" />
<line x1="205.30" y1="363.00" x2="205.30" y2="365.00" stroke="#f2a630" stroke-width="0.75" />
<line x1="204.10" y1="363.00" x2="206.50" y2="363.00" stroke="#f2a630" stroke-width="0.75" />
<line x1="204.10" y1="365.00" x2="206.50" y2="365.00" stroke="#f2a630" stroke-width="0.75" />
<line x1="217.70" y1="364.20" x2="217.70" y2="366.20" stroke="#f2a630" stroke-width="0.75" />
<line x1="216.50" y1="364.20" x2="218.90" y2="364.20" stroke="#f2a630" stroke-width="0.75" />
<line x1="216.50" y1="366.20" x2="218.90" y2="366.20" stroke="#f2a630" stroke-width="0.75" />
<circle cx="56.30" cy="359.50" r="1.4" fill="#f2a630"/>
<circle cx="56.30" cy="359.50" r="0.9" fill="#000" opacity="0.35"/>
<circle cx="68.80" cy="359.20" r="1.4" fill="#f2a630"/>
<circle cx="68.80" cy="359.20" r="0.9" fill="#000" opacity="0.35"/>
<circle cx="81.10" cy="357.20" r="1.4" fill="#f2a630"/>
<circle cx="81.10" cy="357.20" r="0.9" fill="#000" opacity="0.35"/>
<circle cx="93.90" cy="350.70" r="1.4" fill="#f2a630"/>
<circle cx="93.90" cy="350.70" r="0.9" fill="#000" opacity="0.35"/>
<circle cx="106.30" cy="341.20" r="1.4" fill="#f2a630"/>
<circle cx="106.30" cy="341.20" r="0.9" fill="#000" opacity="0.35"/>
<circle cx="118.50" cy="342.00" r="1.4" fill="#f2a630"/>
<circle cx="118.50" cy="342.00" r="0.9" fill="#000" opacity="0.35"/>
<circle cx="130.80" cy="308.00" r="1.4" fill="#f2a630"/>
<circle cx="130.80" cy="308.00" r="0.9" fill="#000" opacity="0.35"/>
<circle cx="143.50" cy="310.80" r="1.4" fill="#f2a630"/>
<circle cx="143.50" cy="310.80" r="0.9" fill="#000" opacity="0.35"/>
<circle cx="155.70" cy="311.50" r="1.4" fill="#f2a630"/>
<circle cx="155.70" cy="311.50" r="0.9" fill="#000" opacity="0.35"/>
<circle cx="168.20" cy="353.70" r="1.4" fill="#f2a630"/>
<circle cx="168.20" cy="353.70" r="0.9" fill="#000" opacity="0.35"/>
<circle cx="180.80" cy="359.40" r="1.4" fill="#f2a630"/>
<circle cx="180.80" cy="359.40" r="0.9" fill="#000" opacity="0.35"/>
<circle cx="193.10" cy="362.50" r="1.4" fill="#f2a630"/>
<circle cx="193.10" cy="362.50" r="0.9" fill="#000" opacity="0.35"/>
<circle cx="205.30" cy="364.00" r="1.4" fill="#f2a630"/>
<circle cx="205.30" cy="364.00" r="0.9" fill="#000" opacity="0.35"/>
<circle cx="217.70" cy="365.20" r="1.4" fill="#f2a630"/>
<circle cx="217.70" cy="365.20" r="0.9" fill="#000" opacity="0.35"/>
<polyline points="56.30,356.70 68.80,354.80 81.10,352.40 93.90,318.60 106.30,317.50 118.50,321.20 130.80,289.50 143.50,293.50 155.70,296.70 168.20,348.30 180.80,357.40 193.10,361.30 205.30,363.70 217.70,365.00" fill="none" stroke="#ba1a40" stroke-width="1.1" stroke-linejoin="round"/>
<line x1="56.30" y1="353.70" x2="56.30" y2="359.70" stroke="#ba1a40" stroke-width="0.75" />
<line x1="55.10" y1="353.70" x2="57.50" y2="353.70" stroke="#ba1a40" stroke-width="0.75" />
<line x1="55.10" y1="359.70" x2="57.50" y2="359.70" stroke="#ba1a40" stroke-width="0.75" />
<line x1="68.80" y1="350.80" x2="68.80" y2="358.80" stroke="#ba1a40" stroke-width="0.75" />
<line x1="67.60" y1="350.80" x2="70.00" y2="350.80" stroke="#ba1a40" stroke-width="0.75" />
<line x1="67.60" y1="358.80" x2="70.00" y2="358.80" stroke="#ba1a40" stroke-width="0.75" />
<line x1="81.10" y1="348.40" x2="81.10" y2="356.40" stroke="#ba1a40" stroke-width="0.75" />
<line x1="79.90" y1="348.40" x2="82.30" y2="348.40" stroke="#ba1a40" stroke-width="0.75" />
<line x1="79.90" y1="356.40" x2="82.30" y2="356.40" stroke="#ba1a40" stroke-width="0.75" />
<line x1="93.90" y1="306.60" x2="93.90" y2="330.60" stroke="#ba1a40" stroke-width="0.75" />
<line x1="92.70" y1="306.60" x2="95.10" y2="306.60" stroke="#ba1a40" stroke-width="0.75" />
<line x1="92.70" y1="330.60" x2="95.10" y2="330.60" stroke="#ba1a40" stroke-width="0.75" />
<line x1="106.30" y1="308.50" x2="106.30" y2="326.50" stroke="#ba1a40" stroke-width="0.75" />
<line x1="105.10" y1="308.50" x2="107.50" y2="308.50" stroke="#ba1a40" stroke-width="0.75" />
<line x1="105.10" y1="326.50" x2="107.50" y2="326.50" stroke="#ba1a40" stroke-width="0.75" />
<line x1="118.50" y1="311.20" x2="118.50" y2="331.20" stroke="#ba1a40" stroke-width="0.75" />
<line x1="117.30" y1="311.20" x2="119.70" y2="311.20" stroke="#ba1a40" stroke-width="0.75" />
<line x1="117.30" y1="331.20" x2="119.70" y2="331.20" stroke="#ba1a40" stroke-width="0.75" />
<line x1="130.80" y1="284.50" x2="130.80" y2="294.50" stroke="#ba1a40" stroke-width="0.75" />
<line x1="129.60" y1="284.50" x2="132.00" y2="284.50" stroke="#ba1a40" stroke-width="0.75" />
<line x1="129.60" y1="294.50" x2="132.00" y2="294.50" stroke="#ba1a40" stroke-width="0.75" />
<line x1="143.50" y1="289.50" x2="143.50" y2="297.50" stroke="#ba1a40" stroke-width="0.75" />
<line x1="142.30" y1="289.50" x2="144.70" y2="289.50" stroke="#ba1a40" stroke-width="0.75" />
<line x1="142.30" y1="297.50" x2="144.70" y2="297.50" stroke="#ba1a40" stroke-width="0.75" />
<line x1="155.70" y1="292.20" x2="155.70" y2="301.20" stroke="#ba1a40" stroke-width="0.75" />
<line x1="154.50" y1="292.20" x2="156.90" y2="292.20" stroke="#ba1a40" stroke-width="0.75" />
<line x1="154.50" y1="301.20" x2="156.90" y2="301.20" stroke="#ba1a40" stroke-width="0.75" />
<line x1="168.20" y1="346.30" x2="168.20" y2="350.30" stroke="#ba1a40" stroke-width="0.75" />
<line x1="167.00" y1="346.30" x2="169.40" y2="346.30" stroke="#ba1a40" stroke-width="0.75" />
<line x1="167.00" y1="350.30" x2="169.40" y2="350.30" stroke="#ba1a40" stroke-width="0.75" />
<line x1="180.80" y1="355.90" x2="180.80" y2="358.90" stroke="#ba1a40" stroke-width="0.75" />
<line x1="179.60" y1="355.90" x2="182.00" y2="355.90" stroke="#ba1a40" stroke-width="0.75" />
<line x1="179.60" y1="358.90" x2="182.00" y2="358.90" stroke="#ba1a40" stroke-width="0.75" />
<line x1="193.10" y1="360.30" x2="193.10" y2="362.30" stroke="#ba1a40" stroke-width="0.75" />
<line x1="191.90" y1="360.30" x2="194.30" y2="360.30" stroke="#ba1a40" stroke-width="0.75" />
<line x1="191.90" y1="362.30" x2="194.30" y2="362.30" stroke="#ba1a40" stroke-width="0.75" />
<line x1="205.30" y1="362.70" x2="205.30" y2="364.70" stroke="#ba1a40" stroke-width="0.75" />
<line x1="204.10" y1="362.70" x2="206.50" y2="362.70" stroke="#ba1a40" stroke-width="0.75" />
<line x1="204.10" y1="364.70" x2="206.50" y2="364.70" stroke="#ba1a40" stroke-width="0.75" />
<line x1="217.70" y1="364.00" x2="217.70" y2="366.00" stroke="#ba1a40" stroke-width="0.75" />
<line x1="216.50" y1="364.00" x2="218.90" y2="364.00" stroke="#ba1a40" stroke-width="0.75" />
<line x1="216.50" y1="366.00" x2="218.90" y2="366.00" stroke="#ba1a40" stroke-width="0.75" />
<circle cx="56.30" cy="356.70" r="1.4" fill="#ba1a40"/>
<circle cx="56.30" cy="356.70" r="0.9" fill="#000" opacity="0.35"/>
<circle cx="68.80" cy="354.80" r="1.4" fill="#ba1a40"/>
<circle cx="68.80" cy="354.80" r="0.9" fill="#000" opacity="0.35"/>
<circle cx="81.10" cy="352.40" r="1.4" fill="#ba1a40"/>
<circle cx="81.10" cy="352.40" r="0.9" fill="#000" opacity="0.35"/>
<circle cx="93.90" cy="318.60" r="1.4" fill="#ba1a40"/>
<circle cx="93.90" cy="318.60" r="0.9" fill="#000" opacity="0.35"/>
<circle cx="106.30" cy="317.50" r="1.4" fill="#ba1a40"/>
<circle cx="106.30" cy="317.50" r="0.9" fill="#000" opacity="0.35"/>
<circle cx="118.50" cy="321.20" r="1.4" fill="#ba1a40"/>
<circle cx="118.50" cy="321.20" r="0.9" fill="#000" opacity="0.35"/>
<circle cx="130.80" cy="289.50" r="1.4" fill="#ba1a40"/>
<circle cx="130.80" cy="289.50" r="0.9" fill="#000" opacity="0.35"/>
<circle cx="143.50" cy="293.50" r="1.4" fill="#ba1a40"/>
<circle cx="143.50" cy="293.50" r="0.9" fill="#000" opacity="0.35"/>
<circle cx="155.70" cy="296.70" r="1.4" fill="#ba1a40"/>
<circle cx="155.70" cy="296.70" r="0.9" fill="#000" opacity="0.35"/>
<circle cx="168.20" cy="348.30" r="1.4" fill="#ba1a40"/>
<circle cx="168.20" cy="348.30" r="0.9" fill="#000" opacity="0.35"/>
<circle cx="180.80" cy="357.40" r="1.4" fill="#ba1a40"/>
<circle cx="180.80" cy="357.40" r="0.9" fill="#000" opacity="0.35"/>
<circle cx="193.10" cy="361.30" r="1.4" fill="#ba1a40"/>
<circle cx="193.10" cy="361.30" r="0.9" fill="#000" opacity="0.35"/>
<circle cx="205.30" cy="363.70" r="1.4" fill="#ba1a40"/>
<circle cx="205.30" cy="363.70" r="0.9" fill="#000" opacity="0.35"/>
<circle cx="217.70" cy="365.00" r="1.4" fill="#ba1a40"/>
<circle cx="217.70" cy="365.00" r="0.9" fill="#000" opacity="0.35"/>
<line x1="54.40" y1="271.20" x2="54.40" y2="373.20" stroke="#222" stroke-width="1.2" />
<line x1="51.80" y1="372.70" x2="246.90" y2="372.70" stroke="#222" stroke-width="1.2" />
<line x1="51.80" y1="372.70" x2="54.40" y2="372.70" stroke="#222" stroke-width="1.0" />
<text x="48.00" y="375.70" font-size="8.3" text-anchor="end" font-weight="normal" fill="#231f20" stroke="#231f20" stroke-width="0.18" >0</text>
<line x1="51.80" y1="348.10" x2="54.40" y2="348.10" stroke="#222" stroke-width="1.0" />
<text x="48.00" y="351.10" font-size="8.3" text-anchor="end" font-weight="normal" fill="#231f20" stroke="#231f20" stroke-width="0.18" >400</text>
<line x1="51.80" y1="323.50" x2="54.40" y2="323.50" stroke="#222" stroke-width="1.0" />
<text x="48.00" y="326.50" font-size="8.3" text-anchor="end" font-weight="normal" fill="#231f20" stroke="#231f20" stroke-width="0.18" >800</text>
<line x1="51.80" y1="298.90" x2="54.40" y2="298.90" stroke="#222" stroke-width="1.0" />
<text x="48.00" y="301.90" font-size="8.3" text-anchor="end" font-weight="normal" fill="#231f20" stroke="#231f20" stroke-width="0.18" >1200</text>
<line x1="51.80" y1="274.30" x2="54.40" y2="274.30" stroke="#222" stroke-width="1.0" />
<text x="48.00" y="277.30" font-size="8.3" text-anchor="end" font-weight="normal" fill="#231f20" stroke="#231f20" stroke-width="0.18" >1600</text>
<line x1="54.40" y1="372.70" x2="54.40" y2="375.50" stroke="#222" stroke-width="1.0" />
<text x="54.40" y="386.50" font-size="8.3" text-anchor="middle" font-weight="normal" fill="#231f20" stroke="#231f20" stroke-width="0.18" >0</text>
<line x1="86.00" y1="372.70" x2="86.00" y2="375.50" stroke="#222" stroke-width="1.0" />
<text x="86.00" y="386.50" font-size="8.3" text-anchor="middle" font-weight="normal" fill="#231f20" stroke="#231f20" stroke-width="0.18" >20</text>
<line x1="117.60" y1="372.70" x2="117.60" y2="375.50" stroke="#222" stroke-width="1.0" />
<text x="117.60" y="386.50" font-size="8.3" text-anchor="middle" font-weight="normal" fill="#231f20" stroke="#231f20" stroke-width="0.18" >40</text>
<line x1="149.20" y1="372.70" x2="149.20" y2="375.50" stroke="#222" stroke-width="1.0" />
<text x="149.20" y="386.50" font-size="8.3" text-anchor="middle" font-weight="normal" fill="#231f20" stroke="#231f20" stroke-width="0.18" >60</text>
<line x1="180.80" y1="372.70" x2="180.80" y2="375.50" stroke="#222" stroke-width="1.0" />
<text x="180.80" y="386.50" font-size="8.3" text-anchor="middle" font-weight="normal" fill="#231f20" stroke="#231f20" stroke-width="0.18" >80</text>
<line x1="212.40" y1="372.70" x2="212.40" y2="375.50" stroke="#222" stroke-width="1.0" />
<text x="212.40" y="386.50" font-size="8.3" text-anchor="middle" font-weight="normal" fill="#231f20" stroke="#231f20" stroke-width="0.18" >100</text>
<line x1="244.00" y1="372.70" x2="244.00" y2="375.50" stroke="#222" stroke-width="1.0" />
<text x="244.00" y="386.50" font-size="8.3" text-anchor="middle" font-weight="normal" fill="#231f20" stroke="#231f20" stroke-width="0.18" >120</text>
<text x="151" y="400.20" font-size="8.8" text-anchor="middle" fill="#231f20" stroke="#231f20" stroke-width="0.3" textLength="45" lengthAdjust="spacingAndGlyphs">Time (minutes)</text>
<text transform="translate(25.00,359.60) rotate(-90)" x="0" y="0" font-size="8.8" font-weight="normal" fill="#231f20" text-anchor="start" textLength="70.2" lengthAdjust="spacingAndGlyphs" stroke="#231f20" stroke-width="0.35">glycoPER (pmol/min)</text>
<line x1="169.40" y1="275.30" x2="185.20" y2="275.30" stroke="#1d5282" stroke-width="1.0" />
<circle cx="176.8" cy="275.30" r="1.35" fill="#1d5282"/>
<circle cx="176.8" cy="275.30" r="0.8" fill="#000" opacity="0.3"/>
<text x="192.20" y="278.00" font-size="7.6" text-anchor="start" font-weight="normal" fill="#333" stroke="#333" stroke-width="0.1" >WT - Media</text>
<line x1="169.40" y1="287.10" x2="185.20" y2="287.10" stroke="#ba1a40" stroke-width="1.0" />
<circle cx="176.8" cy="287.10" r="1.35" fill="#ba1a40"/>
<circle cx="176.8" cy="287.10" r="0.8" fill="#000" opacity="0.3"/>
<text x="192.20" y="289.80" font-size="7.6" text-anchor="start" font-weight="normal" fill="#333" stroke="#333" stroke-width="0.1" >WT - Collagen</text>
<line x1="169.40" y1="298.90" x2="185.20" y2="298.90" stroke="#3c9a45" stroke-width="1.0" />
<circle cx="176.8" cy="298.90" r="1.35" fill="#3c9a45"/>
<circle cx="176.8" cy="298.90" r="0.8" fill="#000" opacity="0.3"/>
<text x="192.20" y="301.60" font-size="7.6" text-anchor="start" font-weight="normal" fill="#333" stroke="#333" stroke-width="0.1" >PDK2/4<tspan font-size="5.5" dy="-3.0">−/−</tspan><tspan dy="3.0"> - Media</tspan></text>
<line x1="169.40" y1="310.70" x2="185.20" y2="310.70" stroke="#f2a630" stroke-width="1.0" />
<circle cx="176.8" cy="310.70" r="1.35" fill="#f2a630"/>
<circle cx="176.8" cy="310.70" r="0.8" fill="#000" opacity="0.3"/>
<text x="192.20" y="313.40" font-size="7.6" text-anchor="start" font-weight="normal" fill="#333" stroke="#333" stroke-width="0.1" >PDK2/4<tspan font-size="5.5" dy="-3.0">−/−</tspan><tspan dy="3.0"> - Collagen</tspan></text>
<text transform="translate(82.70,325.00) rotate(-90)" x="0" y="0" font-size="7.6" font-weight="normal" fill="#231f20" text-anchor="start"  stroke="#231f20" stroke-width="0.18">Collagen / Media</text>
<line x1="80.30" y1="327.60" x2="80.30" y2="332.80" stroke="#111" stroke-width="1.1" />
<polygon points="78.00,332.40 82.60,332.40 80.30,337.40" fill="#111"/>
<text transform="translate(119.80,294.40) rotate(-90)" x="0" y="0" font-size="7.6" font-weight="normal" fill="#231f20" text-anchor="start"  stroke="#231f20" stroke-width="0.18">Rotenone</text>
<line x1="117.80" y1="296.40" x2="117.80" y2="301.80" stroke="#111" stroke-width="1.1" />
<polygon points="115.50,301.40 120.10,301.40 117.80,306.40" fill="#111"/>
<text transform="translate(158.10,273.00) rotate(-90)" x="0" y="0" font-size="7.6" font-weight="normal" fill="#231f20" text-anchor="start"  stroke="#231f20" stroke-width="0.18">2-DG</text>
<line x1="155.40" y1="276.20" x2="155.40" y2="281.00" stroke="#111" stroke-width="1.1" />
<polygon points="153.10,280.60 157.70,280.60 155.40,285.60" fill="#111"/>
<rect x="85.9" y="472.80" width="36.90" height="57.40" fill="none" stroke="#8c7564" stroke-width="1.2" stroke-dasharray="3.2,2.4"/>
<polyline points="56.30,520.00 68.80,521.50 81.10,521.50 93.90,519.80 106.30,521.00 118.50,521.50 130.80,476.00 143.50,476.90 155.70,478.10 168.20,517.70 180.80,527.70 193.10,531.50 205.30,534.00 217.70,535.80" fill="none" stroke="#1d5282" stroke-width="1.1" stroke-linejoin="round"/>
<line x1="56.30" y1="519.00" x2="56.30" y2="521.00" stroke="#1d5282" stroke-width="0.75" />
<line x1="55.10" y1="519.00" x2="57.50" y2="519.00" stroke="#1d5282" stroke-width="0.75" />
<line x1="55.10" y1="521.00" x2="57.50" y2="521.00" stroke="#1d5282" stroke-width="0.75" />
<line x1="68.80" y1="520.50" x2="68.80" y2="522.50" stroke="#1d5282" stroke-width="0.75" />
<line x1="67.60" y1="520.50" x2="70.00" y2="520.50" stroke="#1d5282" stroke-width="0.75" />
<line x1="67.60" y1="522.50" x2="70.00" y2="522.50" stroke="#1d5282" stroke-width="0.75" />
<line x1="81.10" y1="520.50" x2="81.10" y2="522.50" stroke="#1d5282" stroke-width="0.75" />
<line x1="79.90" y1="520.50" x2="82.30" y2="520.50" stroke="#1d5282" stroke-width="0.75" />
<line x1="79.90" y1="522.50" x2="82.30" y2="522.50" stroke="#1d5282" stroke-width="0.75" />
<line x1="93.90" y1="518.80" x2="93.90" y2="520.80" stroke="#1d5282" stroke-width="0.75" />
<line x1="92.70" y1="518.80" x2="95.10" y2="518.80" stroke="#1d5282" stroke-width="0.75" />
<line x1="92.70" y1="520.80" x2="95.10" y2="520.80" stroke="#1d5282" stroke-width="0.75" />
<line x1="106.30" y1="520.00" x2="106.30" y2="522.00" stroke="#1d5282" stroke-width="0.75" />
<line x1="105.10" y1="520.00" x2="107.50" y2="520.00" stroke="#1d5282" stroke-width="0.75" />
<line x1="105.10" y1="522.00" x2="107.50" y2="522.00" stroke="#1d5282" stroke-width="0.75" />
<line x1="118.50" y1="520.50" x2="118.50" y2="522.50" stroke="#1d5282" stroke-width="0.75" />
<line x1="117.30" y1="520.50" x2="119.70" y2="520.50" stroke="#1d5282" stroke-width="0.75" />
<line x1="117.30" y1="522.50" x2="119.70" y2="522.50" stroke="#1d5282" stroke-width="0.75" />
<line x1="130.80" y1="474.00" x2="130.80" y2="478.00" stroke="#1d5282" stroke-width="0.75" />
<line x1="129.60" y1="474.00" x2="132.00" y2="474.00" stroke="#1d5282" stroke-width="0.75" />
<line x1="129.60" y1="478.00" x2="132.00" y2="478.00" stroke="#1d5282" stroke-width="0.75" />
<line x1="143.50" y1="474.90" x2="143.50" y2="478.90" stroke="#1d5282" stroke-width="0.75" />
<line x1="142.30" y1="474.90" x2="144.70" y2="474.90" stroke="#1d5282" stroke-width="0.75" />
<line x1="142.30" y1="478.90" x2="144.70" y2="478.90" stroke="#1d5282" stroke-width="0.75" />
<line x1="155.70" y1="476.10" x2="155.70" y2="480.10" stroke="#1d5282" stroke-width="0.75" />
<line x1="154.50" y1="476.10" x2="156.90" y2="476.10" stroke="#1d5282" stroke-width="0.75" />
<line x1="154.50" y1="480.10" x2="156.90" y2="480.10" stroke="#1d5282" stroke-width="0.75" />
<line x1="168.20" y1="516.70" x2="168.20" y2="518.70" stroke="#1d5282" stroke-width="0.75" />
<line x1="167.00" y1="516.70" x2="169.40" y2="516.70" stroke="#1d5282" stroke-width="0.75" />
<line x1="167.00" y1="518.70" x2="169.40" y2="518.70" stroke="#1d5282" stroke-width="0.75" />
<line x1="180.80" y1="526.70" x2="180.80" y2="528.70" stroke="#1d5282" stroke-width="0.75" />
<line x1="179.60" y1="526.70" x2="182.00" y2="526.70" stroke="#1d5282" stroke-width="0.75" />
<line x1="179.60" y1="528.70" x2="182.00" y2="528.70" stroke="#1d5282" stroke-width="0.75" />
<line x1="193.10" y1="530.50" x2="193.10" y2="532.50" stroke="#1d5282" stroke-width="0.75" />
<line x1="191.90" y1="530.50" x2="194.30" y2="530.50" stroke="#1d5282" stroke-width="0.75" />
<line x1="191.90" y1="532.50" x2="194.30" y2="532.50" stroke="#1d5282" stroke-width="0.75" />
<line x1="205.30" y1="533.00" x2="205.30" y2="535.00" stroke="#1d5282" stroke-width="0.75" />
<line x1="204.10" y1="533.00" x2="206.50" y2="533.00" stroke="#1d5282" stroke-width="0.75" />
<line x1="204.10" y1="535.00" x2="206.50" y2="535.00" stroke="#1d5282" stroke-width="0.75" />
<line x1="217.70" y1="534.80" x2="217.70" y2="536.80" stroke="#1d5282" stroke-width="0.75" />
<line x1="216.50" y1="534.80" x2="218.90" y2="534.80" stroke="#1d5282" stroke-width="0.75" />
<line x1="216.50" y1="536.80" x2="218.90" y2="536.80" stroke="#1d5282" stroke-width="0.75" />
<circle cx="56.30" cy="520.00" r="1.4" fill="#1d5282"/>
<circle cx="56.30" cy="520.00" r="0.9" fill="#000" opacity="0.35"/>
<circle cx="68.80" cy="521.50" r="1.4" fill="#1d5282"/>
<circle cx="68.80" cy="521.50" r="0.9" fill="#000" opacity="0.35"/>
<circle cx="81.10" cy="521.50" r="1.4" fill="#1d5282"/>
<circle cx="81.10" cy="521.50" r="0.9" fill="#000" opacity="0.35"/>
<circle cx="93.90" cy="519.80" r="1.4" fill="#1d5282"/>
<circle cx="93.90" cy="519.80" r="0.9" fill="#000" opacity="0.35"/>
<circle cx="106.30" cy="521.00" r="1.4" fill="#1d5282"/>
<circle cx="106.30" cy="521.00" r="0.9" fill="#000" opacity="0.35"/>
<circle cx="118.50" cy="521.50" r="1.4" fill="#1d5282"/>
<circle cx="118.50" cy="521.50" r="0.9" fill="#000" opacity="0.35"/>
<circle cx="130.80" cy="476.00" r="1.4" fill="#1d5282"/>
<circle cx="130.80" cy="476.00" r="0.9" fill="#000" opacity="0.35"/>
<circle cx="143.50" cy="476.90" r="1.4" fill="#1d5282"/>
<circle cx="143.50" cy="476.90" r="0.9" fill="#000" opacity="0.35"/>
<circle cx="155.70" cy="478.10" r="1.4" fill="#1d5282"/>
<circle cx="155.70" cy="478.10" r="0.9" fill="#000" opacity="0.35"/>
<circle cx="168.20" cy="517.70" r="1.4" fill="#1d5282"/>
<circle cx="168.20" cy="517.70" r="0.9" fill="#000" opacity="0.35"/>
<circle cx="180.80" cy="527.70" r="1.4" fill="#1d5282"/>
<circle cx="180.80" cy="527.70" r="0.9" fill="#000" opacity="0.35"/>
<circle cx="193.10" cy="531.50" r="1.4" fill="#1d5282"/>
<circle cx="193.10" cy="531.50" r="0.9" fill="#000" opacity="0.35"/>
<circle cx="205.30" cy="534.00" r="1.4" fill="#1d5282"/>
<circle cx="205.30" cy="534.00" r="0.9" fill="#000" opacity="0.35"/>
<circle cx="217.70" cy="535.80" r="1.4" fill="#1d5282"/>
<circle cx="217.70" cy="535.80" r="0.9" fill="#000" opacity="0.35"/>
<polyline points="56.30,526.20 68.80,526.60 81.10,526.60 93.90,524.10 106.30,524.50 118.50,525.00 130.80,479.80 143.50,480.90 155.70,480.30 168.20,531.00 180.80,535.00 193.10,536.50 205.30,537.50 217.70,538.50" fill="none" stroke="#3c9a45" stroke-width="1.1" stroke-linejoin="round"/>
<line x1="56.30" y1="525.20" x2="56.30" y2="527.20" stroke="#3c9a45" stroke-width="0.75" />
<line x1="55.10" y1="525.20" x2="57.50" y2="525.20" stroke="#3c9a45" stroke-width="0.75" />
<line x1="55.10" y1="527.20" x2="57.50" y2="527.20" stroke="#3c9a45" stroke-width="0.75" />
<line x1="68.80" y1="525.60" x2="68.80" y2="527.60" stroke="#3c9a45" stroke-width="0.75" />
<line x1="67.60" y1="525.60" x2="70.00" y2="525.60" stroke="#3c9a45" stroke-width="0.75" />
<line x1="67.60" y1="527.60" x2="70.00" y2="527.60" stroke="#3c9a45" stroke-width="0.75" />
<line x1="81.10" y1="525.60" x2="81.10" y2="527.60" stroke="#3c9a45" stroke-width="0.75" />
<line x1="79.90" y1="525.60" x2="82.30" y2="525.60" stroke="#3c9a45" stroke-width="0.75" />
<line x1="79.90" y1="527.60" x2="82.30" y2="527.60" stroke="#3c9a45" stroke-width="0.75" />
<line x1="93.90" y1="523.10" x2="93.90" y2="525.10" stroke="#3c9a45" stroke-width="0.75" />
<line x1="92.70" y1="523.10" x2="95.10" y2="523.10" stroke="#3c9a45" stroke-width="0.75" />
<line x1="92.70" y1="525.10" x2="95.10" y2="525.10" stroke="#3c9a45" stroke-width="0.75" />
<line x1="106.30" y1="523.50" x2="106.30" y2="525.50" stroke="#3c9a45" stroke-width="0.75" />
<line x1="105.10" y1="523.50" x2="107.50" y2="523.50" stroke="#3c9a45" stroke-width="0.75" />
<line x1="105.10" y1="525.50" x2="107.50" y2="525.50" stroke="#3c9a45" stroke-width="0.75" />
<line x1="118.50" y1="524.00" x2="118.50" y2="526.00" stroke="#3c9a45" stroke-width="0.75" />
<line x1="117.30" y1="524.00" x2="119.70" y2="524.00" stroke="#3c9a45" stroke-width="0.75" />
<line x1="117.30" y1="526.00" x2="119.70" y2="526.00" stroke="#3c9a45" stroke-width="0.75" />
<line x1="130.80" y1="478.30" x2="130.80" y2="481.30" stroke="#3c9a45" stroke-width="0.75" />
<line x1="129.60" y1="478.30" x2="132.00" y2="478.30" stroke="#3c9a45" stroke-width="0.75" />
<line x1="129.60" y1="481.30" x2="132.00" y2="481.30" stroke="#3c9a45" stroke-width="0.75" />
<line x1="143.50" y1="479.40" x2="143.50" y2="482.40" stroke="#3c9a45" stroke-width="0.75" />
<line x1="142.30" y1="479.40" x2="144.70" y2="479.40" stroke="#3c9a45" stroke-width="0.75" />
<line x1="142.30" y1="482.40" x2="144.70" y2="482.40" stroke="#3c9a45" stroke-width="0.75" />
<line x1="155.70" y1="478.80" x2="155.70" y2="481.80" stroke="#3c9a45" stroke-width="0.75" />
<line x1="154.50" y1="478.80" x2="156.90" y2="478.80" stroke="#3c9a45" stroke-width="0.75" />
<line x1="154.50" y1="481.80" x2="156.90" y2="481.80" stroke="#3c9a45" stroke-width="0.75" />
<line x1="168.20" y1="530.00" x2="168.20" y2="532.00" stroke="#3c9a45" stroke-width="0.75" />
<line x1="167.00" y1="530.00" x2="169.40" y2="530.00" stroke="#3c9a45" stroke-width="0.75" />
<line x1="167.00" y1="532.00" x2="169.40" y2="532.00" stroke="#3c9a45" stroke-width="0.75" />
<line x1="180.80" y1="534.00" x2="180.80" y2="536.00" stroke="#3c9a45" stroke-width="0.75" />
<line x1="179.60" y1="534.00" x2="182.00" y2="534.00" stroke="#3c9a45" stroke-width="0.75" />
<line x1="179.60" y1="536.00" x2="182.00" y2="536.00" stroke="#3c9a45" stroke-width="0.75" />
<line x1="193.10" y1="535.50" x2="193.10" y2="537.50" stroke="#3c9a45" stroke-width="0.75" />
<line x1="191.90" y1="535.50" x2="194.30" y2="535.50" stroke="#3c9a45" stroke-width="0.75" />
<line x1="191.90" y1="537.50" x2="194.30" y2="537.50" stroke="#3c9a45" stroke-width="0.75" />
<line x1="205.30" y1="536.50" x2="205.30" y2="538.50" stroke="#3c9a45" stroke-width="0.75" />
<line x1="204.10" y1="536.50" x2="206.50" y2="536.50" stroke="#3c9a45" stroke-width="0.75" />
<line x1="204.10" y1="538.50" x2="206.50" y2="538.50" stroke="#3c9a45" stroke-width="0.75" />
<line x1="217.70" y1="537.50" x2="217.70" y2="539.50" stroke="#3c9a45" stroke-width="0.75" />
<line x1="216.50" y1="537.50" x2="218.90" y2="537.50" stroke="#3c9a45" stroke-width="0.75" />
<line x1="216.50" y1="539.50" x2="218.90" y2="539.50" stroke="#3c9a45" stroke-width="0.75" />
<circle cx="56.30" cy="526.20" r="1.4" fill="#3c9a45"/>
<circle cx="56.30" cy="526.20" r="0.9" fill="#000" opacity="0.35"/>
<circle cx="68.80" cy="526.60" r="1.4" fill="#3c9a45"/>
<circle cx="68.80" cy="526.60" r="0.9" fill="#000" opacity="0.35"/>
<circle cx="81.10" cy="526.60" r="1.4" fill="#3c9a45"/>
<circle cx="81.10" cy="526.60" r="0.9" fill="#000" opacity="0.35"/>
<circle cx="93.90" cy="524.10" r="1.4" fill="#3c9a45"/>
<circle cx="93.90" cy="524.10" r="0.9" fill="#000" opacity="0.35"/>
<circle cx="106.30" cy="524.50" r="1.4" fill="#3c9a45"/>
<circle cx="106.30" cy="524.50" r="0.9" fill="#000" opacity="0.35"/>
<circle cx="118.50" cy="525.00" r="1.4" fill="#3c9a45"/>
<circle cx="118.50" cy="525.00" r="0.9" fill="#000" opacity="0.35"/>
<circle cx="130.80" cy="479.80" r="1.4" fill="#3c9a45"/>
<circle cx="130.80" cy="479.80" r="0.9" fill="#000" opacity="0.35"/>
<circle cx="143.50" cy="480.90" r="1.4" fill="#3c9a45"/>
<circle cx="143.50" cy="480.90" r="0.9" fill="#000" opacity="0.35"/>
<circle cx="155.70" cy="480.30" r="1.4" fill="#3c9a45"/>
<circle cx="155.70" cy="480.30" r="0.9" fill="#000" opacity="0.35"/>
<circle cx="168.20" cy="531.00" r="1.4" fill="#3c9a45"/>
<circle cx="168.20" cy="531.00" r="0.9" fill="#000" opacity="0.35"/>
<circle cx="180.80" cy="535.00" r="1.4" fill="#3c9a45"/>
<circle cx="180.80" cy="535.00" r="0.9" fill="#000" opacity="0.35"/>
<circle cx="193.10" cy="536.50" r="1.4" fill="#3c9a45"/>
<circle cx="193.10" cy="536.50" r="0.9" fill="#000" opacity="0.35"/>
<circle cx="205.30" cy="537.50" r="1.4" fill="#3c9a45"/>
<circle cx="205.30" cy="537.50" r="0.9" fill="#000" opacity="0.35"/>
<circle cx="217.70" cy="538.50" r="1.4" fill="#3c9a45"/>
<circle cx="217.70" cy="538.50" r="0.9" fill="#000" opacity="0.35"/>
<polyline points="56.30,527.00 68.80,527.00 81.10,527.00 93.90,488.90 106.30,500.40 118.50,508.70 130.80,469.50 143.50,472.30 155.70,475.20 168.20,533.40 180.80,536.60 193.10,537.50 205.30,538.00 217.70,539.00" fill="none" stroke="#f2a630" stroke-width="1.1" stroke-linejoin="round"/>
<line x1="56.30" y1="526.00" x2="56.30" y2="528.00" stroke="#f2a630" stroke-width="0.75" />
<line x1="55.10" y1="526.00" x2="57.50" y2="526.00" stroke="#f2a630" stroke-width="0.75" />
<line x1="55.10" y1="528.00" x2="57.50" y2="528.00" stroke="#f2a630" stroke-width="0.75" />
<line x1="68.80" y1="526.00" x2="68.80" y2="528.00" stroke="#f2a630" stroke-width="0.75" />
<line x1="67.60" y1="526.00" x2="70.00" y2="526.00" stroke="#f2a630" stroke-width="0.75" />
<line x1="67.60" y1="528.00" x2="70.00" y2="528.00" stroke="#f2a630" stroke-width="0.75" />
<line x1="81.10" y1="526.00" x2="81.10" y2="528.00" stroke="#f2a630" stroke-width="0.75" />
<line x1="79.90" y1="526.00" x2="82.30" y2="526.00" stroke="#f2a630" stroke-width="0.75" />
<line x1="79.90" y1="528.00" x2="82.30" y2="528.00" stroke="#f2a630" stroke-width="0.75" />
<line x1="93.90" y1="486.40" x2="93.90" y2="491.40" stroke="#f2a630" stroke-width="0.75" />
<line x1="92.70" y1="486.40" x2="95.10" y2="486.40" stroke="#f2a630" stroke-width="0.75" />
<line x1="92.70" y1="491.40" x2="95.10" y2="491.40" stroke="#f2a630" stroke-width="0.75" />
<line x1="106.30" y1="497.90" x2="106.30" y2="502.90" stroke="#f2a630" stroke-width="0.75" />
<line x1="105.10" y1="497.90" x2="107.50" y2="497.90" stroke="#f2a630" stroke-width="0.75" />
<line x1="105.10" y1="502.90" x2="107.50" y2="502.90" stroke="#f2a630" stroke-width="0.75" />
<line x1="118.50" y1="506.70" x2="118.50" y2="510.70" stroke="#f2a630" stroke-width="0.75" />
<line x1="117.30" y1="506.70" x2="119.70" y2="506.70" stroke="#f2a630" stroke-width="0.75" />
<line x1="117.30" y1="510.70" x2="119.70" y2="510.70" stroke="#f2a630" stroke-width="0.75" />
<line x1="130.80" y1="467.00" x2="130.80" y2="472.00" stroke="#f2a630" stroke-width="0.75" />
<line x1="129.60" y1="467.00" x2="132.00" y2="467.00" stroke="#f2a630" stroke-width="0.75" />
<line x1="129.60" y1="472.00" x2="132.00" y2="472.00" stroke="#f2a630" stroke-width="0.75" />
<line x1="143.50" y1="470.30" x2="143.50" y2="474.30" stroke="#f2a630" stroke-width="0.75" />
<line x1="142.30" y1="470.30" x2="144.70" y2="470.30" stroke="#f2a630" stroke-width="0.75" />
<line x1="142.30" y1="474.30" x2="144.70" y2="474.30" stroke="#f2a630" stroke-width="0.75" />
<line x1="155.70" y1="473.20" x2="155.70" y2="477.20" stroke="#f2a630" stroke-width="0.75" />
<line x1="154.50" y1="473.20" x2="156.90" y2="473.20" stroke="#f2a630" stroke-width="0.75" />
<line x1="154.50" y1="477.20" x2="156.90" y2="477.20" stroke="#f2a630" stroke-width="0.75" />
<line x1="168.20" y1="532.40" x2="168.20" y2="534.40" stroke="#f2a630" stroke-width="0.75" />
<line x1="167.00" y1="532.40" x2="169.40" y2="532.40" stroke="#f2a630" stroke-width="0.75" />
<line x1="167.00" y1="534.40" x2="169.40" y2="534.40" stroke="#f2a630" stroke-width="0.75" />
<line x1="180.80" y1="535.60" x2="180.80" y2="537.60" stroke="#f2a630" stroke-width="0.75" />
<line x1="179.60" y1="535.60" x2="182.00" y2="535.60" stroke="#f2a630" stroke-width="0.75" />
<line x1="179.60" y1="537.60" x2="182.00" y2="537.60" stroke="#f2a630" stroke-width="0.75" />
<line x1="193.10" y1="536.50" x2="193.10" y2="538.50" stroke="#f2a630" stroke-width="0.75" />
<line x1="191.90" y1="536.50" x2="194.30" y2="536.50" stroke="#f2a630" stroke-width="0.75" />
<line x1="191.90" y1="538.50" x2="194.30" y2="538.50" stroke="#f2a630" stroke-width="0.75" />
<line x1="205.30" y1="537.00" x2="205.30" y2="539.00" stroke="#f2a630" stroke-width="0.75" />
<line x1="204.10" y1="537.00" x2="206.50" y2="537.00" stroke="#f2a630" stroke-width="0.75" />
<line x1="204.10" y1="539.00" x2="206.50" y2="539.00" stroke="#f2a630" stroke-width="0.75" />
<line x1="217.70" y1="538.00" x2="217.70" y2="540.00" stroke="#f2a630" stroke-width="0.75" />
<line x1="216.50" y1="538.00" x2="218.90" y2="538.00" stroke="#f2a630" stroke-width="0.75" />
<line x1="216.50" y1="540.00" x2="218.90" y2="540.00" stroke="#f2a630" stroke-width="0.75" />
<circle cx="56.30" cy="527.00" r="1.4" fill="#f2a630"/>
<circle cx="56.30" cy="527.00" r="0.9" fill="#000" opacity="0.35"/>
<circle cx="68.80" cy="527.00" r="1.4" fill="#f2a630"/>
<circle cx="68.80" cy="527.00" r="0.9" fill="#000" opacity="0.35"/>
<circle cx="81.10" cy="527.00" r="1.4" fill="#f2a630"/>
<circle cx="81.10" cy="527.00" r="0.9" fill="#000" opacity="0.35"/>
<circle cx="93.90" cy="488.90" r="1.4" fill="#f2a630"/>
<circle cx="93.90" cy="488.90" r="0.9" fill="#000" opacity="0.35"/>
<circle cx="106.30" cy="500.40" r="1.4" fill="#f2a630"/>
<circle cx="106.30" cy="500.40" r="0.9" fill="#000" opacity="0.35"/>
<circle cx="118.50" cy="508.70" r="1.4" fill="#f2a630"/>
<circle cx="118.50" cy="508.70" r="0.9" fill="#000" opacity="0.35"/>
<circle cx="130.80" cy="469.50" r="1.4" fill="#f2a630"/>
<circle cx="130.80" cy="469.50" r="0.9" fill="#000" opacity="0.35"/>
<circle cx="143.50" cy="472.30" r="1.4" fill="#f2a630"/>
<circle cx="143.50" cy="472.30" r="0.9" fill="#000" opacity="0.35"/>
<circle cx="155.70" cy="475.20" r="1.4" fill="#f2a630"/>
<circle cx="155.70" cy="475.20" r="0.9" fill="#000" opacity="0.35"/>
<circle cx="168.20" cy="533.40" r="1.4" fill="#f2a630"/>
<circle cx="168.20" cy="533.40" r="0.9" fill="#000" opacity="0.35"/>
<circle cx="180.80" cy="536.60" r="1.4" fill="#f2a630"/>
<circle cx="180.80" cy="536.60" r="0.9" fill="#000" opacity="0.35"/>
<circle cx="193.10" cy="537.50" r="1.4" fill="#f2a630"/>
<circle cx="193.10" cy="537.50" r="0.9" fill="#000" opacity="0.35"/>
<circle cx="205.30" cy="538.00" r="1.4" fill="#f2a630"/>
<circle cx="205.30" cy="538.00" r="0.9" fill="#000" opacity="0.35"/>
<circle cx="217.70" cy="539.00" r="1.4" fill="#f2a630"/>
<circle cx="217.70" cy="539.00" r="0.9" fill="#000" opacity="0.35"/>
<polyline points="56.30,520.80 68.80,522.60 81.10,522.50 93.90,480.30 106.30,493.20 118.50,501.00 130.80,459.20 143.50,464.40 155.70,467.50 168.20,529.60 180.80,532.50 193.10,534.70 205.30,536.60 217.70,538.00" fill="none" stroke="#ba1a40" stroke-width="1.1" stroke-linejoin="round"/>
<line x1="56.30" y1="519.30" x2="56.30" y2="522.30" stroke="#ba1a40" stroke-width="0.75" />
<line x1="55.10" y1="519.30" x2="57.50" y2="519.30" stroke="#ba1a40" stroke-width="0.75" />
<line x1="55.10" y1="522.30" x2="57.50" y2="522.30" stroke="#ba1a40" stroke-width="0.75" />
<line x1="68.80" y1="521.10" x2="68.80" y2="524.10" stroke="#ba1a40" stroke-width="0.75" />
<line x1="67.60" y1="521.10" x2="70.00" y2="521.10" stroke="#ba1a40" stroke-width="0.75" />
<line x1="67.60" y1="524.10" x2="70.00" y2="524.10" stroke="#ba1a40" stroke-width="0.75" />
<line x1="81.10" y1="521.00" x2="81.10" y2="524.00" stroke="#ba1a40" stroke-width="0.75" />
<line x1="79.90" y1="521.00" x2="82.30" y2="521.00" stroke="#ba1a40" stroke-width="0.75" />
<line x1="79.90" y1="524.00" x2="82.30" y2="524.00" stroke="#ba1a40" stroke-width="0.75" />
<line x1="93.90" y1="476.30" x2="93.90" y2="484.30" stroke="#ba1a40" stroke-width="0.75" />
<line x1="92.70" y1="476.30" x2="95.10" y2="476.30" stroke="#ba1a40" stroke-width="0.75" />
<line x1="92.70" y1="484.30" x2="95.10" y2="484.30" stroke="#ba1a40" stroke-width="0.75" />
<line x1="106.30" y1="489.20" x2="106.30" y2="497.20" stroke="#ba1a40" stroke-width="0.75" />
<line x1="105.10" y1="489.20" x2="107.50" y2="489.20" stroke="#ba1a40" stroke-width="0.75" />
<line x1="105.10" y1="497.20" x2="107.50" y2="497.20" stroke="#ba1a40" stroke-width="0.75" />
<line x1="118.50" y1="497.50" x2="118.50" y2="504.50" stroke="#ba1a40" stroke-width="0.75" />
<line x1="117.30" y1="497.50" x2="119.70" y2="497.50" stroke="#ba1a40" stroke-width="0.75" />
<line x1="117.30" y1="504.50" x2="119.70" y2="504.50" stroke="#ba1a40" stroke-width="0.75" />
<line x1="130.80" y1="454.70" x2="130.80" y2="463.70" stroke="#ba1a40" stroke-width="0.75" />
<line x1="129.60" y1="454.70" x2="132.00" y2="454.70" stroke="#ba1a40" stroke-width="0.75" />
<line x1="129.60" y1="463.70" x2="132.00" y2="463.70" stroke="#ba1a40" stroke-width="0.75" />
<line x1="143.50" y1="460.40" x2="143.50" y2="468.40" stroke="#ba1a40" stroke-width="0.75" />
<line x1="142.30" y1="460.40" x2="144.70" y2="460.40" stroke="#ba1a40" stroke-width="0.75" />
<line x1="142.30" y1="468.40" x2="144.70" y2="468.40" stroke="#ba1a40" stroke-width="0.75" />
<line x1="155.70" y1="463.50" x2="155.70" y2="471.50" stroke="#ba1a40" stroke-width="0.75" />
<line x1="154.50" y1="463.50" x2="156.90" y2="463.50" stroke="#ba1a40" stroke-width="0.75" />
<line x1="154.50" y1="471.50" x2="156.90" y2="471.50" stroke="#ba1a40" stroke-width="0.75" />
<line x1="168.20" y1="528.10" x2="168.20" y2="531.10" stroke="#ba1a40" stroke-width="0.75" />
<line x1="167.00" y1="528.10" x2="169.40" y2="528.10" stroke="#ba1a40" stroke-width="0.75" />
<line x1="167.00" y1="531.10" x2="169.40" y2="531.10" stroke="#ba1a40" stroke-width="0.75" />
<line x1="180.80" y1="531.50" x2="180.80" y2="533.50" stroke="#ba1a40" stroke-width="0.75" />
<line x1="179.60" y1="531.50" x2="182.00" y2="531.50" stroke="#ba1a40" stroke-width="0.75" />
<line x1="179.60" y1="533.50" x2="182.00" y2="533.50" stroke="#ba1a40" stroke-width="0.75" />
<line x1="193.10" y1="533.70" x2="193.10" y2="535.70" stroke="#ba1a40" stroke-width="0.75" />
<line x1="191.90" y1="533.70" x2="194.30" y2="533.70" stroke="#ba1a40" stroke-width="0.75" />
<line x1="191.90" y1="535.70" x2="194.30" y2="535.70" stroke="#ba1a40" stroke-width="0.75" />
<line x1="205.30" y1="535.60" x2="205.30" y2="537.60" stroke="#ba1a40" stroke-width="0.75" />
<line x1="204.10" y1="535.60" x2="206.50" y2="535.60" stroke="#ba1a40" stroke-width="0.75" />
<line x1="204.10" y1="537.60" x2="206.50" y2="537.60" stroke="#ba1a40" stroke-width="0.75" />
<line x1="217.70" y1="537.00" x2="217.70" y2="539.00" stroke="#ba1a40" stroke-width="0.75" />
<line x1="216.50" y1="537.00" x2="218.90" y2="537.00" stroke="#ba1a40" stroke-width="0.75" />
<line x1="216.50" y1="539.00" x2="218.90" y2="539.00" stroke="#ba1a40" stroke-width="0.75" />
<circle cx="56.30" cy="520.80" r="1.4" fill="#ba1a40"/>
<circle cx="56.30" cy="520.80" r="0.9" fill="#000" opacity="0.35"/>
<circle cx="68.80" cy="522.60" r="1.4" fill="#ba1a40"/>
<circle cx="68.80" cy="522.60" r="0.9" fill="#000" opacity="0.35"/>
<circle cx="81.10" cy="522.50" r="1.4" fill="#ba1a40"/>
<circle cx="81.10" cy="522.50" r="0.9" fill="#000" opacity="0.35"/>
<circle cx="93.90" cy="480.30" r="1.4" fill="#ba1a40"/>
<circle cx="93.90" cy="480.30" r="0.9" fill="#000" opacity="0.35"/>
<circle cx="106.30" cy="493.20" r="1.4" fill="#ba1a40"/>
<circle cx="106.30" cy="493.20" r="0.9" fill="#000" opacity="0.35"/>
<circle cx="118.50" cy="501.00" r="1.4" fill="#ba1a40"/>
<circle cx="118.50" cy="501.00" r="0.9" fill="#000" opacity="0.35"/>
<circle cx="130.80" cy="459.20" r="1.4" fill="#ba1a40"/>
<circle cx="130.80" cy="459.20" r="0.9" fill="#000" opacity="0.35"/>
<circle cx="143.50" cy="464.40" r="1.4" fill="#ba1a40"/>
<circle cx="143.50" cy="464.40" r="0.9" fill="#000" opacity="0.35"/>
<circle cx="155.70" cy="467.50" r="1.4" fill="#ba1a40"/>
<circle cx="155.70" cy="467.50" r="0.9" fill="#000" opacity="0.35"/>
<circle cx="168.20" cy="529.60" r="1.4" fill="#ba1a40"/>
<circle cx="168.20" cy="529.60" r="0.9" fill="#000" opacity="0.35"/>
<circle cx="180.80" cy="532.50" r="1.4" fill="#ba1a40"/>
<circle cx="180.80" cy="532.50" r="0.9" fill="#000" opacity="0.35"/>
<circle cx="193.10" cy="534.70" r="1.4" fill="#ba1a40"/>
<circle cx="193.10" cy="534.70" r="0.9" fill="#000" opacity="0.35"/>
<circle cx="205.30" cy="536.60" r="1.4" fill="#ba1a40"/>
<circle cx="205.30" cy="536.60" r="0.9" fill="#000" opacity="0.35"/>
<circle cx="217.70" cy="538.00" r="1.4" fill="#ba1a40"/>
<circle cx="217.70" cy="538.00" r="0.9" fill="#000" opacity="0.35"/>
<line x1="54.40" y1="447.80" x2="54.40" y2="546.50" stroke="#222" stroke-width="1.2" />
<line x1="51.80" y1="546.00" x2="246.90" y2="546.00" stroke="#222" stroke-width="1.2" />
<line x1="51.80" y1="546.00" x2="54.40" y2="546.00" stroke="#222" stroke-width="1.0" />
<text x="48.00" y="549.00" font-size="8.3" text-anchor="end" font-weight="normal" fill="#231f20" stroke="#231f20" stroke-width="0.18" >0</text>
<line x1="51.80" y1="515.84" x2="54.40" y2="515.84" stroke="#222" stroke-width="1.0" />
<text x="48.00" y="518.84" font-size="8.3" text-anchor="end" font-weight="normal" fill="#231f20" stroke="#231f20" stroke-width="0.18" >400</text>
<line x1="51.80" y1="485.68" x2="54.40" y2="485.68" stroke="#222" stroke-width="1.0" />
<text x="48.00" y="488.68" font-size="8.3" text-anchor="end" font-weight="normal" fill="#231f20" stroke="#231f20" stroke-width="0.18" >800</text>
<line x1="51.80" y1="455.52" x2="54.40" y2="455.52" stroke="#222" stroke-width="1.0" />
<text x="48.00" y="458.52" font-size="8.3" text-anchor="end" font-weight="normal" fill="#231f20" stroke="#231f20" stroke-width="0.18" >1200</text>
<line x1="54.40" y1="546.00" x2="54.40" y2="548.80" stroke="#222" stroke-width="1.0" />
<text x="54.40" y="559.80" font-size="8.3" text-anchor="middle" font-weight="normal" fill="#231f20" stroke="#231f20" stroke-width="0.18" >0</text>
<line x1="86.00" y1="546.00" x2="86.00" y2="548.80" stroke="#222" stroke-width="1.0" />
<text x="86.00" y="559.80" font-size="8.3" text-anchor="middle" font-weight="normal" fill="#231f20" stroke="#231f20" stroke-width="0.18" >20</text>
<line x1="117.60" y1="546.00" x2="117.60" y2="548.80" stroke="#222" stroke-width="1.0" />
<text x="117.60" y="559.80" font-size="8.3" text-anchor="middle" font-weight="normal" fill="#231f20" stroke="#231f20" stroke-width="0.18" >40</text>
<line x1="149.20" y1="546.00" x2="149.20" y2="548.80" stroke="#222" stroke-width="1.0" />
<text x="149.20" y="559.80" font-size="8.3" text-anchor="middle" font-weight="normal" fill="#231f20" stroke="#231f20" stroke-width="0.18" >60</text>
<line x1="180.80" y1="546.00" x2="180.80" y2="548.80" stroke="#222" stroke-width="1.0" />
<text x="180.80" y="559.80" font-size="8.3" text-anchor="middle" font-weight="normal" fill="#231f20" stroke="#231f20" stroke-width="0.18" >80</text>
<line x1="212.40" y1="546.00" x2="212.40" y2="548.80" stroke="#222" stroke-width="1.0" />
<text x="212.40" y="559.80" font-size="8.3" text-anchor="middle" font-weight="normal" fill="#231f20" stroke="#231f20" stroke-width="0.18" >100</text>
<line x1="244.00" y1="546.00" x2="244.00" y2="548.80" stroke="#222" stroke-width="1.0" />
<text x="244.00" y="559.80" font-size="8.3" text-anchor="middle" font-weight="normal" fill="#231f20" stroke="#231f20" stroke-width="0.18" >120</text>
<text x="151" y="573.50" font-size="8.8" text-anchor="middle" fill="#231f20" stroke="#231f20" stroke-width="0.3" textLength="45" lengthAdjust="spacingAndGlyphs">Time (minutes)</text>
<text transform="translate(25.00,529.80) rotate(-90)" x="0" y="0" font-size="8.8" font-weight="normal" fill="#231f20" text-anchor="start" textLength="66.4" lengthAdjust="spacingAndGlyphs" stroke="#231f20" stroke-width="0.35">glycoPER (pmol/min)</text>
<line x1="169.40" y1="448.80" x2="185.20" y2="448.80" stroke="#1d5282" stroke-width="1.0" />
<circle cx="176.8" cy="448.80" r="1.35" fill="#1d5282"/>
<circle cx="176.8" cy="448.80" r="0.8" fill="#000" opacity="0.3"/>
<text x="192.20" y="451.50" font-size="7.6" text-anchor="start" font-weight="normal" fill="#333" stroke="#333" stroke-width="0.1" >WT - Media</text>
<line x1="169.40" y1="459.90" x2="185.20" y2="459.90" stroke="#ba1a40" stroke-width="1.0" />
<circle cx="176.8" cy="459.90" r="1.35" fill="#ba1a40"/>
<circle cx="176.8" cy="459.90" r="0.8" fill="#000" opacity="0.3"/>
<text x="192.20" y="462.60" font-size="7.6" text-anchor="start" font-weight="normal" fill="#333" stroke="#333" stroke-width="0.1" >WT - PAR4 peptide</text>
<line x1="169.40" y1="471.90" x2="185.20" y2="471.90" stroke="#3c9a45" stroke-width="1.0" />
<circle cx="176.8" cy="471.90" r="1.35" fill="#3c9a45"/>
<circle cx="176.8" cy="471.90" r="0.8" fill="#000" opacity="0.3"/>
<text x="192.20" y="474.60" font-size="7.6" text-anchor="start" font-weight="normal" fill="#333" stroke="#333" stroke-width="0.1" >PDK2/4<tspan font-size="5.5" dy="-3.0">−/−</tspan><tspan dy="3.0"> - Media</tspan></text>
<line x1="169.40" y1="483.90" x2="185.20" y2="483.90" stroke="#f2a630" stroke-width="1.0" />
<circle cx="176.8" cy="483.90" r="1.35" fill="#f2a630"/>
<circle cx="176.8" cy="483.90" r="0.8" fill="#000" opacity="0.3"/>
<text x="192.20" y="486.60" font-size="7.6" text-anchor="start" font-weight="normal" fill="#333" stroke="#333" stroke-width="0.1" >PDK2/4<tspan font-size="5.5" dy="-3.0">−/−</tspan><tspan dy="3.0"> - PAR4 peptide</tspan></text>
<text transform="translate(84.60,501.80) rotate(-90)" x="0" y="0" font-size="7.6" font-weight="normal" fill="#231f20" text-anchor="start"  stroke="#231f20" stroke-width="0.18">PAR4 peptide / Media</text>
<line x1="81.50" y1="503.60" x2="81.50" y2="507.40" stroke="#111" stroke-width="1.1" />
<polygon points="79.20,507.00 83.80,507.00 81.50,512.00" fill="#111"/>
<text transform="translate(120.90,470.90) rotate(-90)" x="0" y="0" font-size="7.6" font-weight="normal" fill="#231f20" text-anchor="start"  stroke="#231f20" stroke-width="0.18">Rotenone</text>
<line x1="118.50" y1="473.40" x2="118.50" y2="478.60" stroke="#111" stroke-width="1.1" />
<polygon points="116.20,478.20 120.80,478.20 118.50,483.20" fill="#111"/>
<text transform="translate(159.40,448.00) rotate(-90)" x="0" y="0" font-size="7.6" font-weight="normal" fill="#231f20" text-anchor="start"  stroke="#231f20" stroke-width="0.18">2-DG</text>
<line x1="155.70" y1="451.30" x2="155.70" y2="455.90" stroke="#111" stroke-width="1.1" />
<polygon points="153.40,455.50 158.00,455.50 155.70,460.50" fill="#111"/>
<line x1="335.30" y1="287.30" x2="335.30" y2="373.50" stroke="#111" stroke-width="1.25" />
<line x1="332.50" y1="372.90" x2="412.80" y2="372.90" stroke="#111" stroke-width="1.25" />
<line x1="332.50" y1="372.90" x2="335.30" y2="372.90" stroke="#111" stroke-width="1.1" />
<text x="329.50" y="375.40" font-size="8.5" text-anchor="end" font-weight="normal" fill="#231f20" stroke="#231f20" stroke-width="0.18" >0</text>
<line x1="332.50" y1="352.15" x2="335.30" y2="352.15" stroke="#111" stroke-width="1.1" />
<text x="329.50" y="354.65" font-size="8.5" text-anchor="end" font-weight="normal" fill="#231f20" stroke="#231f20" stroke-width="0.18" >400</text>
<line x1="332.50" y1="331.40" x2="335.30" y2="331.40" stroke="#111" stroke-width="1.1" />
<text x="329.50" y="333.90" font-size="8.5" text-anchor="end" font-weight="normal" fill="#231f20" stroke="#231f20" stroke-width="0.18" >800</text>
<line x1="332.50" y1="310.65" x2="335.30" y2="310.65" stroke="#111" stroke-width="1.1" />
<text x="329.50" y="313.15" font-size="8.5" text-anchor="end" font-weight="normal" fill="#231f20" stroke="#231f20" stroke-width="0.18" >1200</text>
<line x1="332.50" y1="289.90" x2="335.30" y2="289.90" stroke="#111" stroke-width="1.1" />
<text x="329.50" y="292.40" font-size="8.5" text-anchor="end" font-weight="normal" fill="#231f20" stroke="#231f20" stroke-width="0.18" >1600</text>
<rect x="341.30" y="360.00" width="10.80" height="12.90" fill="#c8002c" />
<line x1="346.70" y1="360.00" x2="346.70" y2="357.00" stroke="#111" stroke-width="0.9" />
<line x1="343.50" y1="357.00" x2="349.90" y2="357.00" stroke="#111" stroke-width="0.9" />
<circle cx="346.70" cy="356.50" r="1.15" fill="#111"/>
<circle cx="343.70" cy="358.50" r="1.15" fill="#111"/>
<circle cx="349.70" cy="358.50" r="1.15" fill="#111"/>
<circle cx="346.70" cy="362.50" r="1.15" fill="#6a0a1e"/>
<rect x="358.00" y="358.20" width="10.30" height="14.70" fill="#0f4f8f" />
<line x1="363.15" y1="358.20" x2="363.15" y2="353.30" stroke="#111" stroke-width="0.9" />
<line x1="359.95" y1="353.30" x2="366.35" y2="353.30" stroke="#111" stroke-width="0.9" />
<circle cx="363.15" cy="340.20" r="1.15" fill="#111"/>
<circle cx="360.65" cy="359.50" r="1.15" fill="#111"/>
<circle cx="365.65" cy="359.50" r="1.15" fill="#111"/>
<circle cx="363.15" cy="363.00" r="1.15" fill="#0a2a52"/>
<rect x="385.80" y="328.10" width="10.40" height="44.80" fill="#c8002c" />
<line x1="391.00" y1="328.10" x2="391.00" y2="317.30" stroke="#111" stroke-width="0.9" />
<line x1="387.80" y1="317.30" x2="394.20" y2="317.30" stroke="#111" stroke-width="0.9" />
<circle cx="391.00" cy="291.70" r="1.15" fill="#111"/>
<circle cx="391.00" cy="322.50" r="1.15" fill="#111"/>
<circle cx="391.00" cy="331.00" r="1.15" fill="#6a0a1e"/>
<circle cx="391.00" cy="338.00" r="1.15" fill="#6a0a1e"/>
<circle cx="391.00" cy="343.00" r="1.15" fill="#6a0a1e"/>
<rect x="402.50" y="353.80" width="10.30" height="19.10" fill="#0f4f8f" />
<line x1="407.65" y1="353.80" x2="407.65" y2="350.50" stroke="#111" stroke-width="0.9" />
<line x1="404.45" y1="350.50" x2="410.85" y2="350.50" stroke="#111" stroke-width="0.9" />
<circle cx="407.65" cy="346.60" r="1.15" fill="#111"/>
<circle cx="404.65" cy="353.50" r="1.15" fill="#111"/>
<circle cx="410.65" cy="353.50" r="1.15" fill="#111"/>
<circle cx="407.65" cy="357.50" r="1.15" fill="#0a2a52"/>
<circle cx="407.65" cy="361.00" r="1.15" fill="#0a2a52"/>
<line x1="354.50" y1="372.90" x2="354.50" y2="375.70" stroke="#222" stroke-width="1.0" />
<line x1="398.00" y1="372.90" x2="398.00" y2="375.70" stroke="#222" stroke-width="1.0" />
<polyline points="346.20,318.20 346.20,281.60 390.80,281.60 390.80,285.60" fill="none" stroke="#222" stroke-width="0.9"/>
<polyline points="390.60,276.90 390.60,272.50 407.60,272.50 407.60,333.50" fill="none" stroke="#222" stroke-width="0.9"/>
<polyline points="346.20,347.00 346.20,331.70 362.90,331.70 362.90,335.30" fill="none" stroke="#222" stroke-width="0.9"/>
<text x="368.70" y="281.00" font-size="7" text-anchor="middle" font-weight="normal" fill="#231f20" stroke="#231f20" stroke-width="0.18" >**</text>
<text x="399.20" y="271.60" font-size="7" text-anchor="middle" font-weight="normal" fill="#231f20" stroke="#231f20" stroke-width="0.18" >*</text>
<text x="354.90" y="328.80" font-size="7.8" text-anchor="middle" font-weight="normal" fill="#231f20" stroke="#231f20" stroke-width="0.18" >ns</text>
<text transform="translate(306.30,362.50) rotate(-90)" x="0" y="0" font-size="8.0" font-weight="normal" fill="#231f20" text-anchor="start" textLength="65.6" lengthAdjust="spacingAndGlyphs" stroke="#231f20" stroke-width="0.35">glycoPER (pmol/min)</text>
<text x="354.50" y="386.30" font-size="8.3" text-anchor="middle" font-weight="normal" fill="#231f20" stroke="#231f20" stroke-width="0.18" >Media</text>
<text x="399.00" y="386.30" font-size="8.3" text-anchor="middle" font-weight="normal" fill="#231f20" stroke="#231f20" stroke-width="0.18" >Collagen</text>
<rect x="421.60" y="320.30" width="8.40" height="4.00" fill="#c8002c" />
<rect x="421.60" y="335.30" width="8.40" height="4.00" fill="#0f4f8f" />
<text x="433.20" y="324.70" font-size="8.3" text-anchor="start" font-weight="normal" fill="#231f20" stroke="#231f20" stroke-width="0.1" >WT</text>
<text x="433.20" y="339.70" font-size="8.2" text-anchor="start" font-weight="normal" fill="#231f20" stroke="#231f20" stroke-width="0.1" >PDK2/4<tspan font-size="4.8" dy="-3.2">−/−</tspan></text>
<line x1="334.70" y1="462.20" x2="334.70" y2="546.50" stroke="#111" stroke-width="1.25" />
<line x1="331.90" y1="545.90" x2="417.50" y2="545.90" stroke="#111" stroke-width="1.25" />
<line x1="331.90" y1="545.90" x2="334.70" y2="545.90" stroke="#111" stroke-width="1.1" />
<text x="328.90" y="548.40" font-size="8.5" text-anchor="end" font-weight="normal" fill="#231f20" stroke="#231f20" stroke-width="0.18" >0</text>
<line x1="331.90" y1="525.75" x2="334.70" y2="525.75" stroke="#111" stroke-width="1.1" />
<text x="328.90" y="528.25" font-size="8.5" text-anchor="end" font-weight="normal" fill="#231f20" stroke="#231f20" stroke-width="0.18" >200</text>
<line x1="331.90" y1="505.60" x2="334.70" y2="505.60" stroke="#111" stroke-width="1.1" />
<text x="328.90" y="508.10" font-size="8.5" text-anchor="end" font-weight="normal" fill="#231f20" stroke="#231f20" stroke-width="0.18" >400</text>
<line x1="331.90" y1="485.45" x2="334.70" y2="485.45" stroke="#111" stroke-width="1.1" />
<text x="328.90" y="487.95" font-size="8.5" text-anchor="end" font-weight="normal" fill="#231f20" stroke="#231f20" stroke-width="0.18" >600</text>
<line x1="331.90" y1="465.30" x2="334.70" y2="465.30" stroke="#111" stroke-width="1.1" />
<text x="328.90" y="467.80" font-size="8.5" text-anchor="end" font-weight="normal" fill="#231f20" stroke="#231f20" stroke-width="0.18" >800</text>
<rect x="340.70" y="512.90" width="10.30" height="33.00" fill="#c8002c" />
<line x1="345.85" y1="512.90" x2="345.85" y2="510.10" stroke="#111" stroke-width="0.9" />
<line x1="342.65" y1="510.10" x2="349.05" y2="510.10" stroke="#111" stroke-width="0.9" />
<circle cx="345.85" cy="508.20" r="1.15" fill="#111"/>
<circle cx="342.85" cy="512.50" r="1.15" fill="#111"/>
<circle cx="348.85" cy="512.50" r="1.15" fill="#111"/>
<circle cx="345.85" cy="516.00" r="1.15" fill="#6a0a1e"/>
<rect x="357.30" y="517.60" width="10.20" height="28.30" fill="#0f4f8f" />
<line x1="362.40" y1="517.60" x2="362.40" y2="515.50" stroke="#111" stroke-width="0.9" />
<line x1="359.20" y1="515.50" x2="365.60" y2="515.50" stroke="#111" stroke-width="0.9" />
<circle cx="359.90" cy="515.20" r="1.15" fill="#111"/>
<circle cx="364.90" cy="515.20" r="1.15" fill="#111"/>
<circle cx="362.40" cy="519.00" r="1.15" fill="#111"/>
<circle cx="362.40" cy="521.00" r="1.15" fill="#0a2a52"/>
<rect x="384.00" y="473.30" width="10.00" height="72.60" fill="#c8002c" />
<line x1="389.00" y1="473.30" x2="389.00" y2="471.40" stroke="#111" stroke-width="0.9" />
<line x1="385.80" y1="471.40" x2="392.20" y2="471.40" stroke="#111" stroke-width="0.9" />
<circle cx="386.00" cy="469.50" r="1.15" fill="#111"/>
<circle cx="392.00" cy="469.50" r="1.15" fill="#111"/>
<circle cx="389.00" cy="473.50" r="1.15" fill="#111"/>
<circle cx="389.00" cy="478.50" r="1.15" fill="#6a0a1e"/>
<rect x="400.70" y="484.60" width="10.10" height="61.30" fill="#0f4f8f" />
<line x1="405.75" y1="484.60" x2="405.75" y2="479.90" stroke="#111" stroke-width="0.9" />
<line x1="402.55" y1="479.90" x2="408.95" y2="479.90" stroke="#111" stroke-width="0.9" />
<circle cx="405.75" cy="473.30" r="1.15" fill="#111"/>
<circle cx="405.75" cy="476.10" r="1.15" fill="#111"/>
<circle cx="403.25" cy="484.50" r="1.15" fill="#111"/>
<circle cx="408.25" cy="484.50" r="1.15" fill="#111"/>
<circle cx="405.75" cy="494.50" r="1.15" fill="#0a2a52"/>
<line x1="353.90" y1="545.90" x2="353.90" y2="548.70" stroke="#222" stroke-width="1.0" />
<line x1="397.30" y1="545.90" x2="397.30" y2="548.70" stroke="#222" stroke-width="1.0" />
<polyline points="345.40,485.60 345.40,461.00 388.40,461.00 388.40,466.10" fill="none" stroke="#222" stroke-width="0.9"/>
<polyline points="390.30,466.00 390.30,461.00 405.80,461.00 405.80,469.20" fill="none" stroke="#222" stroke-width="0.9"/>
<polyline points="345.40,505.00 345.40,499.70 362.90,499.70 362.90,509.20" fill="none" stroke="#222" stroke-width="0.9"/>
<text x="366.70" y="459.90" font-size="7" text-anchor="middle" font-weight="normal" fill="#231f20" stroke="#231f20" stroke-width="0.18" >****</text>
<text x="398.20" y="459.90" font-size="7" text-anchor="middle" font-weight="normal" fill="#231f20" stroke="#231f20" stroke-width="0.18" >*</text>
<text x="353.90" y="497.60" font-size="7.8" text-anchor="middle" font-weight="normal" fill="#231f20" stroke="#231f20" stroke-width="0.18" >ns</text>
<text transform="translate(306.30,536.60) rotate(-90)" x="0" y="0" font-size="8.0" font-weight="normal" fill="#231f20" text-anchor="start" textLength="65.4" lengthAdjust="spacingAndGlyphs" stroke="#231f20" stroke-width="0.35">glycoPER (pmol/min)</text>
<text x="353.90" y="559.70" font-size="8.3" text-anchor="middle" font-weight="normal" fill="#231f20" stroke="#231f20" stroke-width="0.18" >Media</text>
<text x="397.50" y="559.60" font-size="8.3" text-anchor="middle" font-weight="normal" fill="#231f20" stroke="#231f20" stroke-width="0.18" >PAR4</text>
<text x="397.50" y="569.40" font-size="8.3" text-anchor="middle" font-weight="normal" fill="#231f20" stroke="#231f20" stroke-width="0.18" >peptide</text>
<rect x="421.60" y="494.50" width="8.40" height="4.00" fill="#c8002c" />
<rect x="421.60" y="508.90" width="8.40" height="4.00" fill="#0f4f8f" />
<text x="433.20" y="498.90" font-size="8.3" text-anchor="start" font-weight="normal" fill="#231f20" stroke="#231f20" stroke-width="0.1" >WT</text>
<text x="433.20" y="513.80" font-size="8.2" text-anchor="start" font-weight="normal" fill="#231f20" stroke="#231f20" stroke-width="0.1" >PDK2/4<tspan font-size="4.8" dy="-3.2">−/−</tspan></text>
</svg></body></html>
